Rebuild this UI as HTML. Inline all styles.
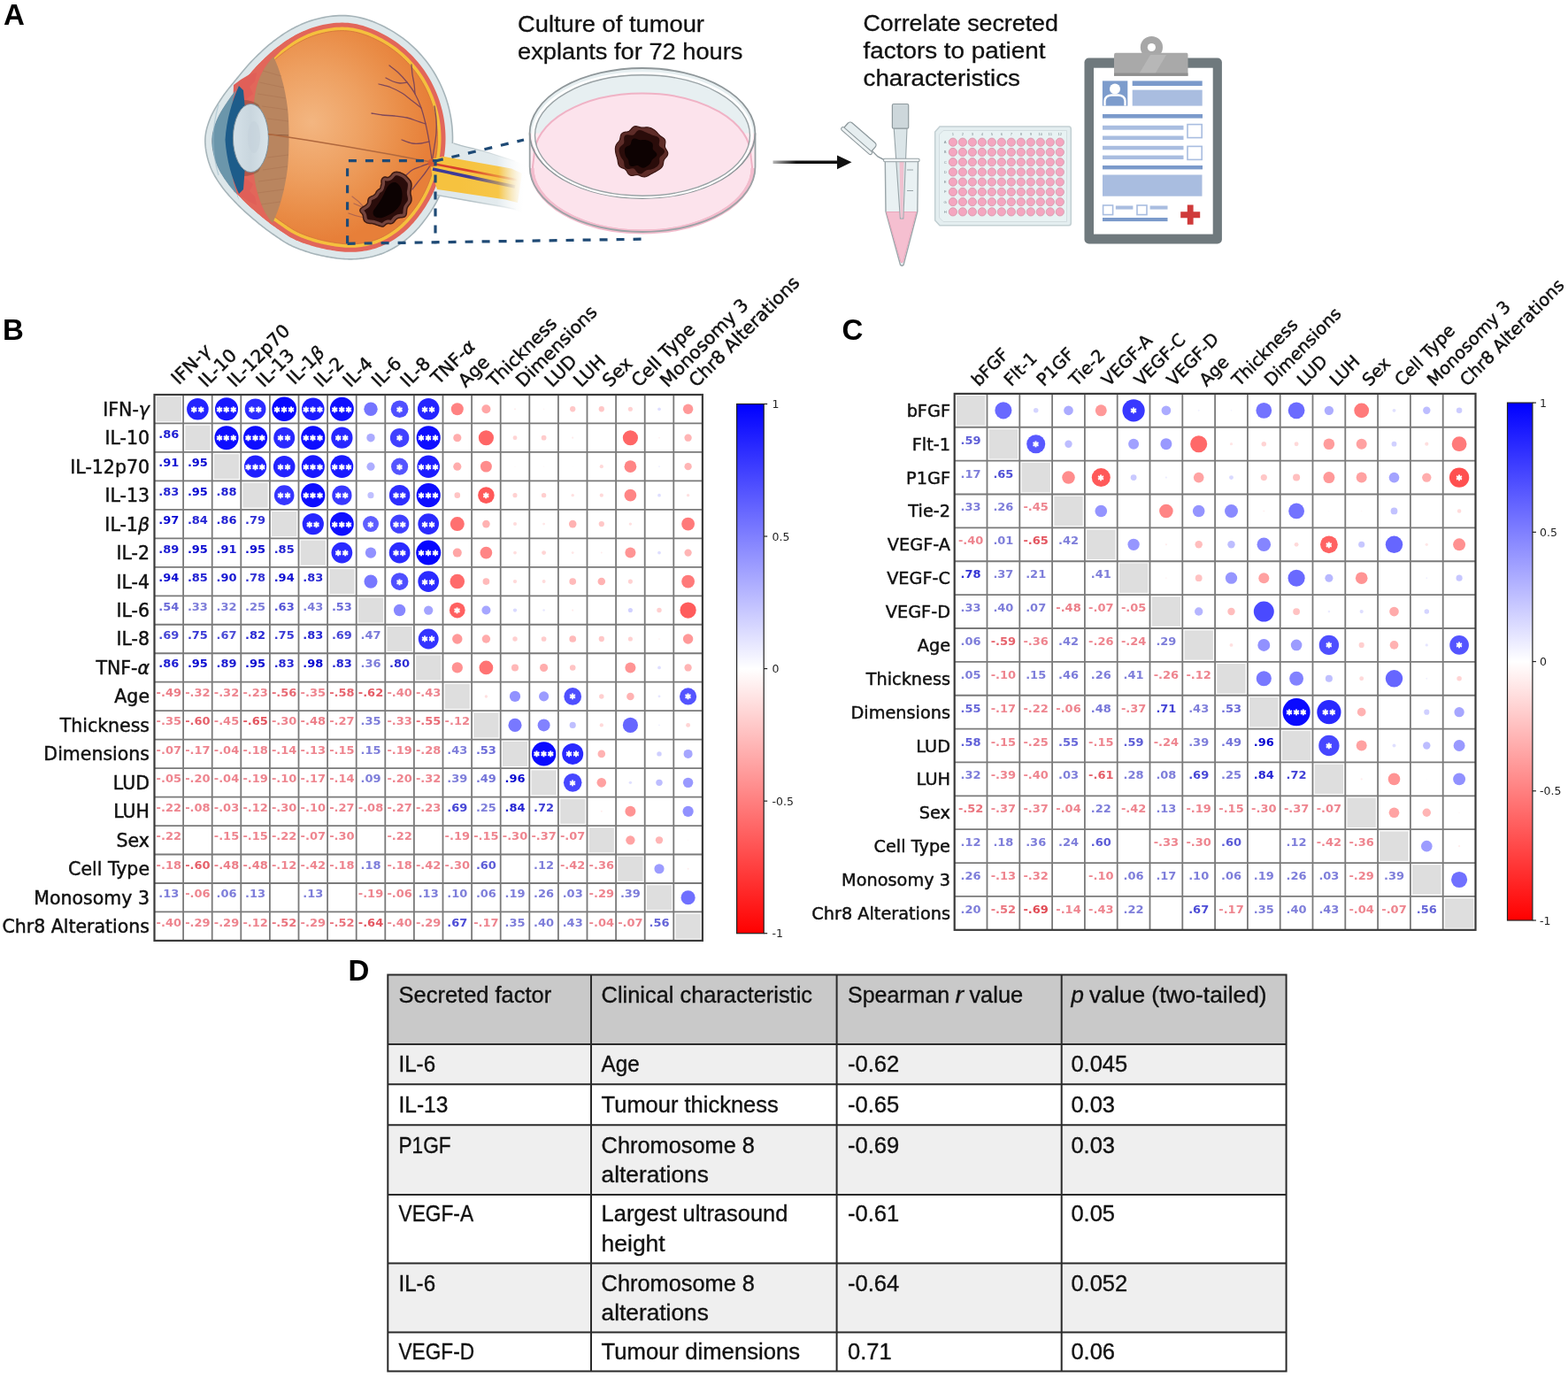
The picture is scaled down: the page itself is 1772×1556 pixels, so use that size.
<!DOCTYPE html><html><head><meta charset="utf-8"><title>Figure</title><style>html,body{margin:0;padding:0;background:#fff;}svg{display:block}.st{font-family:"DejaVu Sans",sans-serif;font-weight:bold;font-size:11.5px;fill:#fff;stroke:#fff;stroke-width:0.9px;text-anchor:middle;letter-spacing:1.9px}.nm{font-family:"DejaVu Sans",sans-serif;font-weight:bold;font-size:13px;text-anchor:middle}.rl{font-family:"DejaVu Sans",sans-serif;text-anchor:end;fill:#111;stroke:#111;stroke-width:0.45px}.cl{font-family:"DejaVu Sans",sans-serif;fill:#111;stroke:#111;stroke-width:0.45px}.cb{font-family:"DejaVu Sans",sans-serif;font-size:12.5px;fill:#222}.pl{font-family:"Liberation Sans",Arial,sans-serif;font-weight:bold;font-size:33px;fill:#000}.at{font-family:"Liberation Sans",Arial,sans-serif;font-size:26.5px;fill:#111;stroke:#111;stroke-width:0.3px}.tt{font-family:"Liberation Sans",Arial,sans-serif;font-size:25.5px;fill:#111;stroke:#111;stroke-width:0.35px}</style></head><body>
<svg width="1772" height="1556" viewBox="0 0 1772 1556">
<defs><linearGradient id="cbg" x1="0" y1="0" x2="0" y2="1"><stop offset="0" stop-color="#0000ff"/><stop offset="0.5" stop-color="#ffffff"/><stop offset="1" stop-color="#ff0000"/></linearGradient></defs>
<rect width="1772" height="1556" fill="#fff"/>
<defs><radialGradient id="vit" cx="352" cy="138" r="135" gradientUnits="userSpaceOnUse"><stop offset="0" stop-color="#f3b681"/><stop offset="0.45" stop-color="#eea061"/><stop offset="0.8" stop-color="#e98b45"/><stop offset="1" stop-color="#e77f39"/></radialGradient><linearGradient id="shf" x1="520" y1="0" x2="596" y2="0" gradientUnits="userSpaceOnUse"><stop offset="0" stop-color="#dfe8eb"/><stop offset="0.55" stop-color="#e3ebee"/><stop offset="1" stop-color="#ffffff" stop-opacity="0"/></linearGradient><linearGradient id="nvf" x1="520" y1="0" x2="592" y2="0" gradientUnits="userSpaceOnUse"><stop offset="0" stop-color="#f6c23f"/><stop offset="0.6" stop-color="#f7c648"/><stop offset="1" stop-color="#fbe6b0" stop-opacity="0"/></linearGradient><linearGradient id="vsf" x1="530" y1="0" x2="585" y2="0" gradientUnits="userSpaceOnUse"><stop offset="0" stop-color="#fff" stop-opacity="1"/><stop offset="1" stop-color="#fff" stop-opacity="0"/></linearGradient><mask id="vsm"><rect x="480" y="150" width="120" height="100" fill="url(#vsf)"/></mask><linearGradient id="lens" x1="0" y1="0" x2="1" y2="0"><stop offset="0" stop-color="#d5e1e8"/><stop offset="0.5" stop-color="#c9d6de"/><stop offset="1" stop-color="#d9e4ea"/></linearGradient><linearGradient id="arw" x1="873" y1="0" x2="900" y2="0" gradientUnits="userSpaceOnUse"><stop offset="0" stop-color="#111" stop-opacity="0.3"/><stop offset="1" stop-color="#111"/></linearGradient></defs>
<path d="M441.50 34.12 L444.94 36.16 L448.32 38.30 L451.66 40.56 L454.94 42.92 L458.15 45.38 L461.29 47.94 L464.37 50.60 L467.36 53.35 L470.27 56.18 L473.10 59.10 L475.83 62.09 L478.48 65.15 L481.03 68.29 L483.49 71.50 L485.85 74.78 L488.12 78.13 L490.28 81.54 L492.35 85.02 L494.32 88.55 L496.18 92.13 L497.94 95.77 L499.61 99.46 L501.16 103.19 L502.62 106.96 L503.97 110.77 L505.21 114.62 L506.34 118.50 L507.36 122.42 L508.27 126.36 L509.07 130.33 L509.76 134.32 L510.34 138.33 L510.80 142.36 L511.15 146.40 L511.38 150.44 L511.50 154.50 L511.50 158.57 L511.38 162.67 L511.14 166.79 L510.78 170.90 L510.30 175.01 L509.71 179.09 L509.00 183.14 L508.19 187.15 L507.28 191.10 L506.28 195.00 L505.19 198.82 L504.03 202.55 L502.79 206.24 L501.46 209.88 L500.05 213.49 L498.56 217.04 L497.00 220.53 L495.37 223.95 L493.68 227.28 L491.93 230.52 L490.13 233.66 L488.29 236.70 L486.42 239.62 L484.53 242.42 L482.64 245.09 L480.76 247.64 L478.90 250.10 L477.04 252.45 L475.17 254.72 L473.30 256.91 L471.40 259.03 L469.47 261.08 L467.51 263.08 L465.49 265.02 L463.42 266.91 L461.27 268.76 L459.07 270.56 L456.85 272.29 L454.61 273.95 L452.35 275.55 L450.06 277.09 L447.75 278.56 L445.40 279.96 L443.04 281.30 L440.64 282.56 L438.22 283.75 L435.76 284.87 L433.28 285.91 L430.77 286.88 L428.26 287.75 L425.73 288.55 L423.19 289.27 L420.64 289.92 L418.08 290.50 L415.52 291.01 L412.95 291.45 L410.38 291.84 L407.80 292.16 L405.22 292.43 L402.63 292.65 L400.01 292.80 L397.36 292.87 L394.70 292.87 L392.03 292.79 L389.37 292.66 L386.73 292.46 L384.12 292.21 L381.56 291.92 L379.06 291.59 L376.63 291.24 L374.27 290.87 L372.00 290.50 L369.82 290.12 L367.73 289.74 L365.71 289.34 L363.76 288.93 L361.86 288.51 L359.99 288.08 L358.15 287.64 L356.33 287.17 L354.51 286.69 L352.68 286.19 L350.84 285.65 L348.97 285.09 L347.09 284.49 L345.21 283.88 L343.33 283.25 L341.46 282.60 L339.59 281.92 L337.73 281.22 L335.89 280.50 L334.05 279.74 L332.24 278.96 L330.44 278.15 L328.66 277.30 L326.90 276.43 L325.18 275.51 L323.50 274.57 L321.85 273.59 L320.23 272.59 L318.64 271.57 L317.05 270.52 L315.47 269.45 L313.88 268.36 L312.29 267.25 L310.67 266.13 L309.03 264.98 L307.35 263.81 L305.64 262.62 L303.91 261.38 L302.16 260.10 L300.41 258.79 L298.64 257.44 L296.87 256.07 L295.11 254.68 L293.35 253.27 L291.60 251.85 L289.87 250.41 L288.15 248.98 L286.44 247.54 L284.74 246.10 L283.03 244.64 L281.32 243.15 L279.61 241.65 L277.90 240.12 L276.21 238.58 L274.53 237.03 L272.87 235.47 L271.24 233.89 L269.64 232.31 L268.08 230.74 L266.56 229.16 L265.06 227.60 L263.59 226.04 L262.14 224.50 L260.71 222.96 L259.30 221.42 L257.91 219.87 L256.55 218.31 L255.20 216.72 L253.87 215.11 L252.58 213.47 L251.31 211.79 L250.07 210.07 L248.85 208.33 L247.66 206.59 L246.49 204.84 L245.34 203.08 L244.22 201.30 L243.13 199.49 L242.07 197.64 L241.04 195.74 L240.06 193.80 L239.12 191.79 L238.23 189.71 L237.40 187.56 L236.61 185.32 L235.84 182.98 L235.12 180.57 L234.45 178.09 L233.83 175.57 L233.29 173.02 L232.83 170.46 L232.45 167.91 L232.16 165.38 L231.96 162.91 L231.86 160.50 L231.85 158.17 L231.93 155.94 L232.11 153.81 L232.36 151.75 L232.68 149.75 L233.07 147.81 L233.52 145.89 L234.02 144.00 L234.58 142.12 L235.19 140.23 L235.84 138.31 L236.55 136.37 L237.30 134.37 L238.11 132.34 L239.01 130.32 L239.98 128.31 L241.02 126.30 L242.11 124.31 L243.25 122.32 L244.43 120.35 L245.65 118.38 L246.89 116.43 L248.15 114.48 L249.42 112.53 L250.70 110.59 L252.01 108.66 L253.35 106.75 L254.74 104.86 L256.16 102.99 L257.61 101.13 L259.08 99.27 L260.57 97.43 L262.08 95.58 L263.61 93.73 L265.14 91.88 L266.67 90.01 L268.21 88.12 L269.77 86.20 L271.36 84.23 L272.99 82.24 L274.66 80.22 L276.35 78.21 L278.07 76.20 L279.80 74.22 L281.55 72.26 L283.31 70.35 L285.06 68.50 L286.80 66.70 L288.52 64.98 L290.22 63.31 L291.92 61.67 L293.61 60.05 L295.29 58.46 L296.97 56.89 L298.64 55.36 L300.32 53.87 L301.99 52.41 L303.66 50.98 L305.33 49.60 L306.99 48.26 L308.66 46.97 L310.29 45.74 L311.85 44.57 L313.37 43.45 L314.86 42.37 L316.34 41.31 L317.82 40.27 L319.33 39.24 L320.87 38.21 L322.48 37.16 L324.17 36.10 L325.96 35.02 L327.87 33.92 L329.89 32.80 L331.98 31.68 L334.14 30.56 L336.38 29.45 L338.69 28.36 L341.08 27.29 L343.55 26.25 L346.09 25.25 L348.72 24.29 L351.44 23.38 L354.23 22.52 L357.11 21.73 L360.07 20.99 L363.12 20.30 L366.26 19.65 L369.48 19.07 L372.78 18.57 L376.15 18.16 L379.59 17.86 L383.09 17.67 L386.64 17.60 L390.23 17.67 L393.85 17.89 L397.50 18.27 L401.17 18.80 L404.88 19.51 L408.61 20.37 L412.36 21.39 L416.10 22.56 L419.84 23.87 L423.55 25.31 L427.23 26.87 L430.87 28.54 L434.47 30.32 L438.01 32.18 Z" fill="#dde7ea" stroke="#a6b4b9" stroke-width="1.6"/>
<path d="M488 166 L512.5 161.8 C525 166 537 168 549 171.5 L594 186 L590 240 L570 234 L494 221 L488 221 Z" fill="url(#shf)"/>
<path d="M512.5 161.8 C525 166 537 168 549 171.5 L582 182" stroke="#b3c0c5" stroke-width="1.3" fill="none" mask="url(#vsm)"/>
<path d="M494 220.5 L570 234 L583 236.5" stroke="#b3c0c5" stroke-width="1.3" fill="none" mask="url(#vsm)"/>
<path d="M437.52 41.06 L440.76 42.98 L443.94 45.00 L447.08 47.12 L450.16 49.34 L453.19 51.66 L456.15 54.07 L459.04 56.57 L461.86 59.16 L464.61 61.83 L467.27 64.58 L469.86 67.40 L472.35 70.29 L474.75 73.25 L477.07 76.27 L479.29 79.36 L481.43 82.51 L483.47 85.73 L485.42 89.01 L487.27 92.34 L489.03 95.72 L490.70 99.16 L492.27 102.64 L493.74 106.17 L495.11 109.73 L496.39 113.33 L497.56 116.97 L498.63 120.63 L499.59 124.33 L500.45 128.05 L501.21 131.80 L501.86 135.57 L502.40 139.35 L502.84 143.16 L503.17 146.97 L503.39 150.79 L503.50 154.62 L503.50 158.46 L503.39 162.32 L503.16 166.21 L502.82 170.09 L502.37 173.97 L501.81 177.83 L501.14 181.66 L500.37 185.46 L499.51 189.21 L498.56 192.90 L497.52 196.53 L496.42 200.09 L495.23 203.59 L493.97 207.06 L492.64 210.49 L491.22 213.86 L489.74 217.17 L488.20 220.41 L486.59 223.57 L484.94 226.63 L483.24 229.60 L481.50 232.47 L479.74 235.22 L477.95 237.87 L476.15 240.41 L474.35 242.86 L472.58 245.19 L470.81 247.43 L469.05 249.58 L467.28 251.64 L465.50 253.62 L463.71 255.54 L461.88 257.39 L460.02 259.19 L458.11 260.93 L456.13 262.63 L454.08 264.30 L452.01 265.92 L449.92 267.48 L447.81 268.97 L445.68 270.39 L443.54 271.75 L441.38 273.05 L439.21 274.27 L437.01 275.43 L434.79 276.52 L432.56 277.54 L430.30 278.49 L428.02 279.36 L425.73 280.16 L423.43 280.89 L421.11 281.55 L418.77 282.14 L416.42 282.67 L414.06 283.14 L411.68 283.55 L409.29 283.91 L406.89 284.21 L404.47 284.46 L402.06 284.67 L399.67 284.80 L397.26 284.87 L394.81 284.87 L392.34 284.80 L389.87 284.67 L387.40 284.49 L384.96 284.25 L382.54 283.98 L380.15 283.67 L377.82 283.33 L375.53 282.97 L373.33 282.61 L371.23 282.25 L369.23 281.88 L367.31 281.50 L365.44 281.11 L363.61 280.71 L361.83 280.29 L360.07 279.87 L358.33 279.43 L356.60 278.97 L354.87 278.49 L353.12 277.98 L351.34 277.44 L349.53 276.87 L347.72 276.28 L345.92 275.68 L344.13 275.06 L342.36 274.42 L340.61 273.76 L338.87 273.08 L337.16 272.37 L335.47 271.64 L333.80 270.89 L332.16 270.11 L330.56 269.31 L329.01 268.49 L327.50 267.64 L325.99 266.75 L324.50 265.82 L323.00 264.86 L321.49 263.87 L319.97 262.84 L318.43 261.78 L316.85 260.69 L315.25 259.57 L313.60 258.42 L311.93 257.26 L310.27 256.09 L308.60 254.89 L306.92 253.66 L305.22 252.40 L303.51 251.10 L301.80 249.77 L300.09 248.42 L298.38 247.05 L296.67 245.66 L294.98 244.26 L293.29 242.85 L291.61 241.43 L289.93 240.01 L288.26 238.57 L286.58 237.12 L284.91 235.66 L283.25 234.18 L281.61 232.69 L279.99 231.19 L278.39 229.68 L276.83 228.17 L275.29 226.65 L273.80 225.14 L272.33 223.62 L270.86 222.08 L269.41 220.55 L267.99 219.04 L266.60 217.54 L265.23 216.05 L263.90 214.57 L262.60 213.08 L261.34 211.59 L260.10 210.09 L258.90 208.57 L257.74 207.04 L256.59 205.44 L255.43 203.78 L254.28 202.10 L253.16 200.43 L252.08 198.77 L251.03 197.11 L250.03 195.44 L249.06 193.75 L248.14 192.04 L247.26 190.30 L246.43 188.52 L245.64 186.69 L244.90 184.78 L244.18 182.74 L243.48 180.59 L242.81 178.37 L242.19 176.10 L241.64 173.80 L241.14 171.48 L240.72 169.16 L240.38 166.86 L240.12 164.60 L239.94 162.41 L239.85 160.31 L239.85 158.31 L239.92 156.42 L240.07 154.61 L240.28 152.87 L240.55 151.17 L240.89 149.50 L241.28 147.84 L241.72 146.17 L242.22 144.48 L242.78 142.75 L243.39 140.97 L244.05 139.13 L244.75 137.27 L245.48 135.46 L246.27 133.68 L247.14 131.88 L248.08 130.06 L249.08 128.22 L250.15 126.37 L251.26 124.51 L252.42 122.63 L253.62 120.74 L254.85 118.84 L256.11 116.92 L257.36 115.03 L258.59 113.21 L259.85 111.42 L261.15 109.64 L262.50 107.86 L263.90 106.07 L265.32 104.28 L266.78 102.47 L268.27 100.66 L269.78 98.82 L271.31 96.96 L272.86 95.08 L274.42 93.17 L275.98 91.24 L277.57 89.28 L279.18 87.32 L280.80 85.34 L282.45 83.38 L284.12 81.44 L285.79 79.52 L287.48 77.64 L289.16 75.81 L290.84 74.03 L292.50 72.32 L294.15 70.66 L295.81 69.04 L297.48 67.42 L299.12 65.84 L300.76 64.29 L302.39 62.78 L304.01 61.30 L305.62 59.86 L307.22 58.46 L308.80 57.11 L310.38 55.80 L311.95 54.54 L313.53 53.32 L315.10 52.13 L316.62 50.99 L318.10 49.90 L319.54 48.86 L320.96 47.84 L322.38 46.85 L323.81 45.86 L325.27 44.89 L326.78 43.91 L328.35 42.92 L330.02 41.92 L331.81 40.89 L333.73 39.82 L335.71 38.76 L337.76 37.70 L339.86 36.65 L342.03 35.63 L344.26 34.63 L346.56 33.66 L348.93 32.73 L351.37 31.84 L353.88 30.99 L356.46 30.21 L359.13 29.47 L361.93 28.77 L364.82 28.11 L367.77 27.51 L370.78 26.96 L373.86 26.50 L376.98 26.12 L380.16 25.84 L383.38 25.66 L386.63 25.60 L389.91 25.67 L393.20 25.87 L396.51 26.20 L399.84 26.69 L403.22 27.34 L406.65 28.13 L410.11 29.07 L413.59 30.16 L417.07 31.38 L420.54 32.72 L424.00 34.19 L427.43 35.77 L430.84 37.45 L434.21 39.22 Z" fill="#e2665a"/>
<path d="M435.03 45.40 L438.15 47.24 L441.21 49.18 L444.22 51.22 L447.18 53.35 L450.09 55.58 L452.93 57.90 L455.72 60.30 L458.43 62.79 L461.07 65.36 L463.63 68.01 L466.12 70.73 L468.52 73.51 L470.83 76.34 L473.05 79.25 L475.19 82.22 L477.24 85.25 L479.21 88.35 L481.08 91.50 L482.87 94.71 L484.56 97.97 L486.17 101.28 L487.68 104.63 L489.10 108.03 L490.42 111.47 L491.65 114.93 L492.78 118.43 L493.81 121.97 L494.74 125.53 L495.57 129.11 L496.29 132.72 L496.92 136.35 L497.44 139.99 L497.86 143.66 L498.18 147.33 L498.39 151.01 L498.50 154.69 L498.50 158.39 L498.40 162.11 L498.18 165.84 L497.85 169.58 L497.41 173.32 L496.87 177.04 L496.23 180.74 L495.49 184.40 L494.65 188.02 L493.73 191.59 L492.73 195.10 L491.66 198.55 L490.52 201.94 L489.29 205.30 L488.00 208.62 L486.63 211.88 L485.20 215.07 L483.71 218.20 L482.16 221.25 L480.57 224.20 L478.93 227.07 L477.25 229.83 L475.56 232.47 L473.83 235.03 L472.09 237.49 L470.35 239.87 L468.63 242.13 L466.92 244.29 L465.22 246.36 L463.52 248.34 L461.81 250.25 L460.10 252.08 L458.37 253.84 L456.60 255.54 L454.80 257.18 L452.92 258.80 L450.97 260.39 L448.98 261.94 L446.98 263.43 L444.97 264.85 L442.95 266.21 L440.92 267.50 L438.87 268.72 L436.81 269.88 L434.74 270.98 L432.65 272.00 L430.55 272.96 L428.43 273.85 L426.30 274.67 L424.16 275.42 L421.99 276.10 L419.81 276.72 L417.61 277.28 L415.38 277.78 L413.14 278.23 L410.89 278.62 L408.61 278.96 L406.31 279.25 L404.00 279.49 L401.71 279.68 L399.46 279.81 L397.19 279.87 L394.88 279.87 L392.54 279.80 L390.19 279.68 L387.83 279.51 L385.48 279.28 L383.14 279.02 L380.84 278.71 L378.56 278.38 L376.32 278.04 L374.16 277.68 L372.12 277.33 L370.17 276.97 L368.30 276.60 L366.48 276.22 L364.71 275.83 L362.98 275.43 L361.27 275.02 L359.59 274.59 L357.91 274.14 L356.23 273.68 L354.54 273.19 L352.82 272.67 L351.05 272.11 L349.28 271.54 L347.53 270.95 L345.80 270.35 L344.09 269.73 L342.40 269.09 L340.74 268.44 L339.10 267.76 L337.48 267.07 L335.90 266.35 L334.35 265.62 L332.84 264.87 L331.41 264.10 L330.00 263.31 L328.58 262.47 L327.16 261.59 L325.73 260.67 L324.27 259.71 L322.79 258.71 L321.27 257.66 L319.71 256.58 L318.11 255.47 L316.46 254.32 L314.80 253.16 L313.16 252.01 L311.53 250.84 L309.89 249.64 L308.23 248.40 L306.56 247.13 L304.88 245.83 L303.20 244.51 L301.52 243.16 L299.84 241.79 L298.17 240.41 L296.50 239.02 L294.84 237.62 L293.18 236.21 L291.52 234.79 L289.87 233.35 L288.22 231.91 L286.60 230.46 L284.99 229.00 L283.41 227.53 L281.85 226.06 L280.32 224.59 L278.83 223.11 L277.37 221.64 L275.93 220.16 L274.49 218.64 L273.05 217.12 L271.64 215.63 L270.27 214.15 L268.94 212.70 L267.65 211.25 L266.39 209.82 L265.17 208.39 L264.00 206.95 L262.86 205.51 L261.76 204.06 L260.67 202.55 L259.54 200.93 L258.41 199.29 L257.33 197.67 L256.29 196.08 L255.29 194.49 L254.34 192.91 L253.43 191.32 L252.57 189.73 L251.76 188.12 L250.99 186.48 L250.27 184.80 L249.59 183.04 L248.91 181.13 L248.25 179.10 L247.62 177.00 L247.04 174.86 L246.51 172.69 L246.05 170.52 L245.66 168.35 L245.34 166.21 L245.10 164.12 L244.94 162.10 L244.85 160.19 L244.85 158.39 L244.91 156.71 L245.04 155.11 L245.23 153.57 L245.47 152.06 L245.77 150.56 L246.13 149.05 L246.54 147.52 L247.00 145.95 L247.52 144.32 L248.10 142.63 L248.74 140.86 L249.41 139.09 L250.08 137.42 L250.81 135.78 L251.61 134.11 L252.49 132.40 L253.45 130.67 L254.46 128.90 L255.53 127.11 L256.66 125.29 L257.83 123.44 L259.04 121.57 L260.29 119.67 L261.52 117.80 L262.70 116.05 L263.91 114.34 L265.16 112.63 L266.47 110.91 L267.82 109.16 L269.22 107.41 L270.66 105.63 L272.13 103.83 L273.64 102.00 L275.17 100.14 L276.73 98.25 L278.30 96.32 L279.87 94.39 L281.45 92.44 L283.04 90.49 L284.65 88.54 L286.27 86.61 L287.90 84.71 L289.54 82.83 L291.18 81.00 L292.82 79.21 L294.45 77.49 L296.06 75.83 L297.67 74.22 L299.31 72.61 L300.95 71.02 L302.57 69.46 L304.18 67.94 L305.78 66.45 L307.36 65.01 L308.93 63.61 L310.48 62.25 L312.02 60.94 L313.55 59.67 L315.05 58.46 L316.57 57.28 L318.10 56.12 L319.60 55.01 L321.05 53.94 L322.46 52.92 L323.85 51.92 L325.23 50.95 L326.62 50.00 L328.02 49.06 L329.47 48.12 L330.97 47.18 L332.55 46.23 L334.27 45.24 L336.12 44.21 L338.05 43.18 L340.02 42.16 L342.04 41.15 L344.12 40.17 L346.26 39.22 L348.45 38.29 L350.71 37.40 L353.02 36.56 L355.41 35.76 L357.85 35.01 L360.40 34.31 L363.09 33.64 L365.88 33.00 L368.71 32.42 L371.60 31.90 L374.53 31.45 L377.51 31.09 L380.52 30.82 L383.56 30.66 L386.63 30.60 L389.71 30.66 L392.80 30.85 L395.89 31.17 L399.01 31.62 L402.19 32.23 L405.43 32.98 L408.71 33.87 L412.02 34.90 L415.34 36.07 L418.66 37.36 L421.98 38.76 L425.28 40.28 L428.57 41.90 L431.83 43.61 Z" fill="#f5c03d"/>
<path d="M433.03 48.86 L436.06 50.65 L439.02 52.53 L441.93 54.50 L444.79 56.56 L447.61 58.72 L450.36 60.96 L453.05 63.29 L455.68 65.70 L458.24 68.19 L460.72 70.75 L463.13 73.38 L465.45 76.08 L467.69 78.82 L469.84 81.63 L471.91 84.51 L473.90 87.45 L475.80 90.44 L477.62 93.50 L479.35 96.60 L480.99 99.76 L482.54 102.97 L484.01 106.22 L485.39 109.52 L486.67 112.85 L487.86 116.22 L488.96 119.61 L489.95 123.03 L490.85 126.48 L491.66 129.96 L492.36 133.45 L492.97 136.97 L493.48 140.51 L493.88 144.06 L494.19 147.62 L494.40 151.19 L494.50 154.75 L494.50 158.33 L494.40 161.93 L494.19 165.55 L493.87 169.18 L493.45 172.80 L492.92 176.41 L492.30 180.00 L491.58 183.56 L490.77 187.08 L489.87 190.55 L488.90 193.96 L487.86 197.31 L486.74 200.62 L485.55 203.89 L484.29 207.12 L482.96 210.29 L481.57 213.40 L480.12 216.43 L478.62 219.39 L477.07 222.26 L475.48 225.04 L473.86 227.71 L472.22 230.28 L470.54 232.75 L468.84 235.16 L467.14 237.47 L465.46 239.68 L463.80 241.78 L462.15 243.79 L460.51 245.71 L458.86 247.54 L457.21 249.30 L455.55 250.99 L453.87 252.62 L452.15 254.19 L450.35 255.73 L448.47 257.27 L446.55 258.76 L444.63 260.19 L442.70 261.56 L440.76 262.86 L438.82 264.09 L436.86 265.27 L434.90 266.37 L432.92 267.41 L430.94 268.39 L428.95 269.30 L426.94 270.14 L424.93 270.91 L422.90 271.62 L420.84 272.27 L418.77 272.86 L416.67 273.39 L414.55 273.87 L412.41 274.29 L410.25 274.67 L408.06 274.99 L405.86 275.27 L403.63 275.50 L401.43 275.69 L399.29 275.81 L397.14 275.87 L394.94 275.87 L392.70 275.81 L390.44 275.69 L388.17 275.52 L385.89 275.30 L383.63 275.05 L381.38 274.75 L379.16 274.43 L376.95 274.09 L374.82 273.74 L372.82 273.39 L370.93 273.04 L369.10 272.68 L367.32 272.31 L365.59 271.93 L363.90 271.54 L362.23 271.13 L360.59 270.72 L358.95 270.28 L357.32 269.83 L355.68 269.36 L354.00 268.85 L352.27 268.30 L350.54 267.74 L348.83 267.16 L347.14 266.58 L345.48 265.97 L343.84 265.36 L342.23 264.73 L340.65 264.08 L339.10 263.41 L337.58 262.72 L336.10 262.02 L334.67 261.31 L333.32 260.59 L332.00 259.85 L330.66 259.05 L329.30 258.21 L327.91 257.32 L326.49 256.38 L325.04 255.40 L323.54 254.37 L322.00 253.30 L320.40 252.19 L318.75 251.03 L317.09 249.88 L315.47 248.75 L313.88 247.60 L312.26 246.42 L310.64 245.21 L308.99 243.96 L307.35 242.68 L305.69 241.38 L304.04 240.05 L302.38 238.70 L300.72 237.33 L299.07 235.95 L297.42 234.56 L295.77 233.16 L294.13 231.76 L292.50 230.34 L290.88 228.92 L289.27 227.49 L287.69 226.05 L286.14 224.61 L284.61 223.17 L283.11 221.73 L281.65 220.28 L280.23 218.85 L278.82 217.39 L277.38 215.88 L275.95 214.37 L274.56 212.89 L273.21 211.44 L271.91 210.01 L270.64 208.60 L269.42 207.21 L268.24 205.82 L267.11 204.44 L266.02 203.07 L264.98 201.69 L263.93 200.23 L262.83 198.65 L261.72 197.04 L260.67 195.47 L259.66 193.92 L258.70 192.39 L257.79 190.88 L256.93 189.38 L256.12 187.88 L255.35 186.37 L254.64 184.84 L253.98 183.29 L253.34 181.65 L252.70 179.84 L252.06 177.90 L251.46 175.90 L250.91 173.87 L250.41 171.81 L249.97 169.74 L249.60 167.69 L249.30 165.68 L249.08 163.73 L248.93 161.86 L248.85 160.09 L248.85 158.46 L248.90 156.95 L249.02 155.52 L249.19 154.13 L249.41 152.77 L249.68 151.41 L250.01 150.03 L250.39 148.61 L250.82 147.13 L251.32 145.58 L251.88 143.96 L252.50 142.24 L253.14 140.54 L253.77 138.98 L254.44 137.46 L255.19 135.90 L256.03 134.28 L256.93 132.62 L257.91 130.92 L258.95 129.19 L260.05 127.41 L261.20 125.60 L262.40 123.75 L263.63 121.87 L264.85 120.02 L266.00 118.32 L267.15 116.68 L268.37 115.02 L269.64 113.34 L270.97 111.64 L272.34 109.91 L273.76 108.15 L275.23 106.37 L276.73 104.54 L278.26 102.68 L279.82 100.78 L281.40 98.85 L282.97 96.90 L284.55 94.96 L286.13 93.03 L287.72 91.10 L289.32 89.20 L290.92 87.32 L292.53 85.48 L294.14 83.69 L295.75 81.94 L297.34 80.25 L298.91 78.63 L300.49 77.06 L302.10 75.48 L303.73 73.90 L305.33 72.36 L306.92 70.86 L308.49 69.39 L310.04 67.98 L311.58 66.60 L313.09 65.28 L314.59 64.00 L316.07 62.77 L317.53 61.60 L319.01 60.45 L320.51 59.32 L321.98 58.22 L323.41 57.17 L324.80 56.16 L326.16 55.19 L327.51 54.24 L328.86 53.31 L330.22 52.40 L331.62 51.50 L333.07 50.59 L334.58 49.67 L336.24 48.72 L338.04 47.72 L339.91 46.72 L341.82 45.73 L343.78 44.75 L345.79 43.81 L347.85 42.89 L349.96 42.00 L352.13 41.14 L354.35 40.33 L356.63 39.56 L358.96 38.85 L361.41 38.18 L364.02 37.53 L366.73 36.91 L369.47 36.34 L372.25 35.84 L375.07 35.42 L377.92 35.07 L380.80 34.81 L383.70 34.66 L386.62 34.60 L389.55 34.66 L392.47 34.84 L395.39 35.13 L398.34 35.57 L401.37 36.14 L404.45 36.86 L407.59 37.71 L410.76 38.70 L413.95 39.82 L417.16 41.06 L420.36 42.42 L423.56 43.89 L426.75 45.47 L429.92 47.13 Z" fill="url(#vit)" stroke="#d0703a" stroke-width="0.8"/>
<path d="M344.13 275.06 L342.36 274.42 L340.61 273.76 L338.87 273.08 L337.16 272.37 L335.47 271.64 L333.80 270.89 L332.16 270.11 L330.56 269.31 L329.01 268.49 L327.50 267.64 L325.99 266.75 L324.50 265.82 L323.00 264.86 L321.49 263.87 L319.97 262.84 L318.43 261.78 L316.85 260.69 L315.25 259.57 L313.60 258.42 L311.93 257.26 L310.27 256.09 L308.60 254.89 L306.92 253.66 L305.22 252.40 L303.51 251.10 L301.80 249.77 L300.09 248.42 L298.38 247.05 L296.67 245.66 L294.98 244.26 L293.29 242.85 L291.61 241.43 L289.93 240.01 L288.26 238.57 L286.58 237.12 L284.91 235.66 L283.25 234.18 L281.61 232.69 L279.99 231.19 L278.39 229.68 L276.83 228.17 L275.29 226.65 L273.80 225.14 L272.33 223.62 L270.86 222.08 L269.41 220.55 L267.99 219.04 L266.60 217.54 L265.23 216.05 L263.90 214.57 L262.60 213.08 L261.34 211.59 L260.10 210.09 L258.90 208.57 L257.74 207.04 L256.59 205.44 L255.43 203.78 L254.28 202.10 L253.16 200.43 L252.08 198.77 L251.03 197.11 L250.03 195.44 L249.06 193.75 L248.14 192.04 L247.26 190.30 L246.43 188.52 L245.64 186.69 L244.90 184.78 L244.18 182.74 L243.48 180.59 L242.81 178.37 L242.19 176.10 L241.64 173.80 L241.14 171.48 L240.72 169.16 L240.38 166.86 L240.12 164.60 L239.94 162.41 L239.85 160.31 L239.85 158.31 L239.92 156.42 L240.07 154.61 L240.28 152.87 L240.55 151.17 L240.89 149.50 L241.28 147.84 L241.72 146.17 L242.22 144.48 L242.78 142.75 L243.39 140.97 L244.05 139.13 L244.75 137.27 L245.48 135.46 L246.27 133.68 L247.14 131.88 L248.08 130.06 L249.08 128.22 L250.15 126.37 L251.26 124.51 L252.42 122.63 L253.62 120.74 L254.85 118.84 L256.11 116.92 L257.36 115.03 L258.59 113.21 L259.85 111.42 L261.15 109.64 L262.50 107.86 L263.90 106.07 L265.32 104.28 L266.78 102.47 L268.27 100.66 L269.78 98.82 L271.31 96.96 L272.86 95.08 L274.42 93.17 L275.98 91.24 L277.57 89.28 L279.18 87.32 L280.80 85.34 L282.45 83.38 L284.12 81.44 L285.79 79.52 L287.48 77.64 L289.16 75.81 L290.84 74.03 L292.50 72.32 L294.15 70.66 L295.81 69.04 L297.48 67.42 L299.12 65.84 L300.76 64.29 L302.39 62.78 L304.01 61.30 L305.62 59.86 L307.22 58.46 L308.80 57.11 L310.38 55.80 L311.95 54.54 L313.53 53.32 L315.10 52.13 L316.62 50.99 L318.10 49.90 L319.54 48.86 L320.96 47.84 L322.38 46.85 L323.81 45.86 L325.27 44.89 L326.78 43.91 L328.35 42.92 L330.02 41.92 L331.81 40.89 L333.73 39.82 L335.71 38.76 L337.76 37.70 L339.86 36.65 L342.03 35.63 L344.26 34.63 L346.00 37.00 L330.00 48.00 L318.00 57.00 L309.00 66.00 L300.00 80.00 L292.00 100.00 L289.00 130.00 L288.00 157.00 L289.00 185.00 L292.00 212.00 L300.00 236.00 L309.00 250.00 L319.00 259.00 L331.00 267.00 L346.00 276.00 Z" fill="#e2665a"/>
<path d="M309 64 C316 78 322 98 325 122 C327 140 327 170 325 190 C322 214 316 236 308 252 C300 244 293 228 289 210 C286 194 285 176 285 157 C285 136 286 118 289 102 C292 88 299 74 309 64 Z" fill="#b9855f"/>
<g stroke="#a7714f" stroke-width="0.9" opacity="0.55"><path d="M297 80 L318 86"/><path d="M293 93 L321 99"/><path d="M291 106 L323 111"/><path d="M296 120 L325 124"/><path d="M302 134 L326 137"/><path d="M302 178 L326 175"/><path d="M297 192 L325 188"/><path d="M292 205 L323 201"/><path d="M291 218 L321 214"/><path d="M295 231 L317 228"/></g>
<path d="M303 152 L326 153" stroke="#8e5a3c" stroke-width="1"/>
<path d="M268 114 C276 112 284 113 292 118 L295 124 C288 121 280 120 271 122 Z" fill="#5e3a2c" opacity="0.35"/>
<path d="M268 198 C276 200 284 199 292 194 L295 188 C288 191 280 192 271 190 Z" fill="#5e3a2c" opacity="0.35"/>
<path d="M264 96 L272 90 L282 84 L290 82 L288 92 L282 98 L286 106 L278 112 L268 118 L263 126 Z" fill="#e05f58"/>
<path d="M264 216 L272 222 L282 228 L290 232 L288 222 L282 216 L286 208 L278 202 L268 196 L263 188 Z" fill="#e05f58"/>
<path d="M267.88 100.34 L266.39 102.16 L264.93 103.97 L263.50 105.76 L262.11 107.56 L260.75 109.34 L259.44 111.13 L258.18 112.92 L256.94 114.75 L255.69 116.65 L254.44 118.57 L253.20 120.47 L252.00 122.37 L250.84 124.25 L249.72 126.12 L248.65 127.98 L247.64 129.82 L246.69 131.66 L245.82 133.47 L245.02 135.27 L244.28 137.09 L243.58 138.96 L242.92 140.80 L242.30 142.59 L241.75 144.33 L241.24 146.03 L240.79 147.72 L240.40 149.39 L240.06 151.08 L239.78 152.80 L239.57 154.56 L239.42 156.39 L239.35 158.30 L239.35 160.32 L239.45 162.44 L239.62 164.65 L239.89 166.93 L240.23 169.24 L240.65 171.58 L241.15 173.91 L241.71 176.23 L242.33 178.51 L243.00 180.74 L243.71 182.90 L244.43 184.96 L245.18 186.88 L245.97 188.72 L246.81 190.52 L247.69 192.27 L248.62 193.99 L249.59 195.69 L250.61 197.37 L251.66 199.04 L252.74 200.71 L253.86 202.38 L255.02 204.06 L256.18 205.73 L257.34 207.33 L258.51 208.88 L259.71 210.40 L260.95 211.91 L262.23 213.41 L263.53 214.90 L264.86 216.39 L266.23 217.88 L267.62 219.38 L270.00 226.00 L264.00 206.00 L260.00 186.00 L258.50 158.00 L260.00 130.00 L264.00 110.00 L270.00 92.00 Z" fill="#6b96ab"/>
<path d="M247 118 C243 132 241 145 241 158 C241 172 243 185 247 198" stroke="#9fbccb" stroke-width="1.2" fill="none" opacity="0.6"/>
<path d="M270 97 C262 115 256 135 254.5 158 C256 181 262 201 270 219 L275 214 L276.68 192.00 L274.63 190.20 L273.03 188.40 L271.71 186.60 L270.58 184.80 L269.61 183.00 L268.75 181.20 L267.99 179.40 L267.32 177.60 L266.73 175.80 L266.21 174.00 L265.75 172.20 L265.34 170.40 L265.00 168.60 L264.70 166.80 L264.45 165.00 L264.25 163.20 L264.10 161.40 L263.99 159.60 L263.92 157.80 L263.90 156.00 L263.92 154.20 L263.99 152.40 L264.10 150.60 L264.25 148.80 L264.45 147.00 L264.70 145.20 L265.00 143.40 L265.34 141.60 L265.75 139.80 L266.21 138.00 L266.73 136.20 L267.32 134.40 L267.99 132.60 L268.75 130.80 L269.61 129.00 L270.58 127.20 L271.71 125.40 L273.03 123.60 L274.63 121.80 L276.68 120.00 L275 102 Z" fill="#1d5c8a"/>
<ellipse cx="283.4" cy="156" rx="20" ry="38.6" fill="url(#lens)" stroke="#7e919c" stroke-width="1"/>
<ellipse cx="287" cy="155" rx="7" ry="18" fill="#c4d1da" opacity="0.55"/>
<path d="M303 151.5 C360 160 430 172 487 183" stroke="#b0683e" stroke-width="1.3" fill="none"/>
<path d="M486 180 L501 176.8 L578 190.5 L590 196 L585 229 L571 225.5 L494 213.9 L488 196 Z" fill="url(#nvf)"/>
<g mask="url(#vsm)"><path d="M487 184.5 L585 203.5" stroke="#d8402c" stroke-width="2.6"/><path d="M489 191 L582 211" stroke="#3d3a98" stroke-width="3.6"/></g>
<g stroke="#74405a" stroke-width="1.3" fill="none" stroke-linecap="round" opacity="0.9"><path d="M488.30 181.50 C487.75 177.92 486.22 166.92 485.00 160.00 C483.78 153.08 482.50 146.33 481.00 140.00 C479.50 133.67 478.00 127.67 476.00 122.00 C474.00 116.33 471.67 110.83 469.00 106.00 C466.33 101.17 463.17 97.00 460.00 93.00 C456.83 89.00 453.33 85.17 450.00 82.00 C446.67 78.83 441.67 75.33 440.00 74.00"/><path d="M476.00 122.00 C474.33 120.67 469.67 116.83 466.00 114.00 C462.33 111.17 458.00 107.50 454.00 105.00 C450.00 102.50 446.33 100.67 442.00 99.00 C437.67 97.33 430.33 95.67 428.00 95.00"/><path d="M481.00 140.00 C479.50 139.50 475.50 138.17 472.00 137.00 C468.50 135.83 464.33 134.00 460.00 133.00 C455.67 132.00 450.67 131.50 446.00 131.00 C441.33 130.50 436.33 130.50 432.00 130.00 C427.67 129.50 422.00 128.33 420.00 128.00"/><path d="M469.00 106.00 C468.83 104.17 468.50 98.67 468.00 95.00 C467.50 91.33 466.50 87.67 466.00 84.00 C465.50 80.33 465.17 74.83 465.00 73.00"/><path d="M488.30 181.50 C488.75 178.75 490.22 170.25 491.00 165.00 C491.78 159.75 492.67 155.00 493.00 150.00 C493.33 145.00 493.33 140.00 493.00 135.00 C492.67 130.00 491.33 122.50 491.00 120.00"/><path d="M485.00 160.00 C483.50 160.33 479.17 161.67 476.00 162.00 C472.83 162.33 469.67 162.67 466.00 162.00 C462.33 161.33 456.00 158.67 454.00 158.00"/><path d="M460.00 93.00 C458.67 93.17 454.67 94.17 452.00 94.00 C449.33 93.83 446.67 93.00 444.00 92.00 C441.33 91.00 437.33 88.67 436.00 88.00"/><path d="M487.00 184.00 C485.17 184.67 479.50 186.67 476.00 188.00 C472.50 189.33 468.83 190.33 466.00 192.00 C463.17 193.67 460.17 197.00 459.00 198.00"/><path d="M487.00 186.00 C485.83 187.67 482.50 192.67 480.00 196.00 C477.50 199.33 474.33 203.00 472.00 206.00 C469.67 209.00 467.00 212.67 466.00 214.00"/><path d="M420 240 C414 236 408 233 400 230" opacity="0.55"/><path d="M416 246 C410 246 402 244 394 241" opacity="0.55"/><path d="M412 235 C408 230 404 226 398 222" opacity="0.5"/></g>
<circle cx="488" cy="184" r="4.5" fill="#d85a30" opacity="0.9"/>
<path d="M444.40 195.30 L445.53 194.74 L446.82 194.41 L448.20 194.30 L449.58 194.40 L450.92 194.67 L452.19 195.07 L453.48 195.57 L454.82 196.19 L456.14 196.89 L457.37 197.66 L458.43 198.43 L459.26 199.19 L459.94 199.92 L460.61 200.66 L461.30 201.43 L462.03 202.25 L462.77 203.11 L463.50 204.00 L464.12 205.01 L464.56 206.17 L464.82 207.37 L464.92 208.54 L464.91 209.62 L464.85 210.59 L464.76 211.53 L464.64 212.49 L464.51 213.46 L464.37 214.39 L464.21 215.26 L464.05 216.05 L463.92 216.79 L463.86 217.49 L463.88 218.24 L463.99 219.08 L464.17 220.00 L464.40 221.00 L464.65 222.11 L464.85 223.31 L464.97 224.56 L464.94 225.82 L464.77 227.05 L464.43 228.19 L463.96 229.21 L463.38 230.14 L462.74 231.01 L462.08 231.84 L461.46 232.65 L460.91 233.47 L460.45 234.30 L460.10 235.16 L459.85 236.05 L459.69 237.00 L459.58 237.98 L459.50 239.00 L459.44 240.03 L459.36 241.07 L459.17 242.10 L458.80 243.11 L458.20 244.03 L457.35 244.80 L456.30 245.31 L455.15 245.59 L453.96 245.72 L452.78 245.81 L451.64 245.93 L450.59 246.14 L449.69 246.45 L448.90 246.83 L448.20 247.32 L447.56 247.91 L446.97 248.58 L446.40 249.30 L445.83 250.04 L445.23 250.76 L444.60 251.42 L443.92 251.96 L443.20 252.38 L442.45 252.64 L441.72 252.75 L441.02 252.74 L440.34 252.66 L439.67 252.56 L439.00 252.50 L438.32 252.53 L437.61 252.69 L436.91 253.00 L436.25 253.42 L435.64 253.93 L435.06 254.47 L434.50 255.00 L433.95 255.46 L433.40 255.81 L432.85 256.02 L432.29 256.10 L431.69 256.03 L430.95 255.85 L430.01 255.58 L428.88 255.23 L427.65 254.82 L426.40 254.39 L425.22 253.97 L424.17 253.56 L423.22 253.21 L422.27 252.94 L421.29 252.74 L420.27 252.61 L419.21 252.50 L418.10 252.40 L416.95 252.26 L415.79 252.04 L414.65 251.70 L413.58 251.20 L412.62 250.53 L411.84 249.69 L411.27 248.71 L410.91 247.66 L410.70 246.59 L410.56 245.55 L410.43 244.57 L410.25 243.67 L409.99 242.88 L409.66 242.20 L409.25 241.61 L408.78 241.07 L408.29 240.56 L407.80 240.00 L407.37 239.40 L407.04 238.75 L406.87 238.06 L406.89 237.35 L407.12 236.66 L407.54 235.99 L408.14 235.35 L408.89 234.75 L409.73 234.18 L410.60 233.65 L411.44 233.14 L412.18 232.67 L412.84 232.23 L413.48 231.75 L414.13 231.15 L414.74 230.43 L415.26 229.60 L415.60 228.70 L415.76 227.80 L415.84 226.91 L415.95 226.03 L416.18 225.13 L416.59 224.25 L417.21 223.47 L417.99 222.84 L418.85 222.35 L419.76 221.93 L420.68 221.54 L421.56 221.13 L422.37 220.68 L423.09 220.14 L423.69 219.54 L424.20 218.86 L424.65 218.12 L425.06 217.32 L425.50 216.50 L426.08 215.70 L426.83 214.98 L427.60 214.37 L428.28 213.89 L428.80 213.55 L429.17 213.33 L429.52 213.01 L429.85 212.37 L430.11 211.51 L430.31 210.59 L430.51 209.75 L430.75 209.05 L430.97 208.37 L431.08 207.63 L431.10 206.89 L431.05 206.13 L431.00 205.34 L431.00 204.50 L431.14 203.61 L431.44 202.72 L431.90 201.89 L432.49 201.17 L433.19 200.60 L433.99 200.19 L434.85 200.01 L435.68 200.06 L436.46 200.24 L437.27 200.41 L438.18 200.44 L439.19 200.22 L440.21 199.66 L441.14 198.85 L441.96 197.93 L442.72 196.97 L443.50 196.07 Z" fill="#74443d" stroke="#3e1a12" stroke-width="1.5"/>
<path d="M446.59 198.65 L446.91 198.50 L447.48 198.35 L448.21 198.30 L449.04 198.36 L449.93 198.54 L450.86 198.84 L451.91 199.25 L453.04 199.77 L454.15 200.36 L455.14 200.97 L455.91 201.54 L456.46 202.04 L456.99 202.62 L457.63 203.33 L458.32 204.10 L459.02 204.89 L459.71 205.68 L460.24 206.31 L460.53 206.76 L460.72 207.30 L460.86 207.98 L460.92 208.72 L460.92 209.48 L460.86 210.26 L460.78 211.10 L460.67 211.99 L460.55 212.88 L460.42 213.73 L460.28 214.51 L460.12 215.31 L459.95 216.27 L459.86 217.40 L459.90 218.57 L460.04 219.71 L460.25 220.83 L460.50 221.90 L460.73 222.88 L460.89 223.81 L460.97 224.70 L460.96 225.51 L460.86 226.21 L460.69 226.78 L460.44 227.31 L460.06 227.90 L459.56 228.59 L458.93 229.38 L458.22 230.31 L457.49 231.39 L456.84 232.58 L456.32 233.86 L455.95 235.18 L455.72 236.44 L455.60 237.61 L455.51 238.73 L455.45 239.76 L455.39 240.56 L455.31 241.05 L455.23 241.31 L455.17 241.42 L455.13 241.47 L454.95 241.54 L454.44 241.65 L453.58 241.74 L452.43 241.83 L451.04 241.97 L449.57 242.27 L448.17 242.74 L446.87 243.38 L445.69 244.20 L444.70 245.11 L443.90 246.01 L443.25 246.84 L442.70 247.55 L442.25 248.10 L441.90 248.47 L441.66 248.67 L441.53 248.74 L441.48 248.76 L441.45 248.75 L441.28 248.74 L440.85 248.69 L440.14 248.59 L439.10 248.50 L437.76 248.57 L436.33 248.90 L435.01 249.48 L433.90 250.19 L433.00 250.93 L432.32 251.56 L431.84 252.01 L431.57 252.24 L431.59 252.25 L431.86 252.15 L432.26 252.10 L432.41 252.10 L432.00 251.99 L431.16 251.75 L430.09 251.42 L428.93 251.03 L427.74 250.62 L426.62 250.22 L425.58 249.82 L424.46 249.41 L423.21 249.05 L421.96 248.80 L420.74 248.63 L419.59 248.52 L418.52 248.42 L417.56 248.31 L416.74 248.16 L416.08 247.96 L415.58 247.74 L415.25 247.51 L415.05 247.30 L414.91 247.05 L414.77 246.61 L414.65 245.93 L414.53 245.03 L414.38 243.91 L414.12 242.65 L413.70 241.38 L413.11 240.19 L412.41 239.15 L411.73 238.37 L411.24 237.85 L410.93 237.51 L410.78 237.31 L410.78 237.35 L410.84 237.64 L410.83 238.05 L410.73 238.38 L410.68 238.47 L410.85 238.30 L411.27 237.97 L411.91 237.54 L412.69 237.06 L413.54 236.54 L414.34 236.03 L415.13 235.51 L416.05 234.82 L417.03 233.91 L417.99 232.77 L418.84 231.37 L419.45 229.78 L419.72 228.32 L419.81 227.33 L419.88 226.77 L419.94 226.49 L419.98 226.36 L420.04 226.29 L420.25 226.15 L420.69 225.90 L421.38 225.58 L422.29 225.20 L423.37 224.70 L424.55 224.03 L425.69 223.18 L426.71 222.17 L427.53 221.09 L428.14 220.07 L428.60 219.19 L428.89 218.63 L429.10 218.32 L429.47 217.98 L429.99 217.57 L430.54 217.19 L430.93 216.93 L431.56 216.54 L432.78 215.33 L433.58 213.82 L433.98 212.50 L434.21 211.49 L434.35 210.86 L434.55 210.30 L434.86 209.26 L435.06 207.98 L435.09 206.82 L435.04 205.88 L434.99 205.22 L434.99 204.83 L435.02 204.57 L435.10 204.33 L435.21 204.13 L435.31 204.01 L435.37 203.96 L435.34 203.96 L435.17 204.00 L435.11 204.02 L435.61 204.15 L436.80 204.38 L438.58 204.42 L440.63 203.95 L442.51 202.93 L443.95 201.69 L445.02 200.51 L445.81 199.52 L446.32 198.90 Z" fill="#2a0c0a"/>
<path d="M447 206 C455 210 456 220 453 230 C449 238 441 243 432 246 C425 247 420 244 422 238 C426 232 431 226 434 219 C437 211 441 205 447 206 Z" fill="#0c0202"/>
<g stroke="#1f4a75" stroke-width="3.2" fill="none" stroke-dasharray="9 10"><path d="M392.6 275.3 V181.6 H492 V275.3"/><path d="M392.6 275.3 L725 270.2"/><path d="M492 182 L592 158"/></g>
<ellipse cx="726" cy="150.5" rx="127.4" ry="73.5" fill="#e7eff1"/>
<path d="M598.7 150.5 L598.7 188.5 A127.4 73.5 0 0 0 853.5 188.5 L853.5 150.5 Z" fill="#fde9f0"/>
<path d="M603.5 176.2 A122.5 70.7 0 0 1 848.5 176.2 L850 188.5 A124 72 0 0 1 602 188.5 Z" fill="#fce3ec" stroke="#f0b2c5" stroke-width="2"/>
<path d="M601 190 A125 72 0 0 0 851 190" stroke="#f3bccd" stroke-width="5" fill="none"/>
<path d="M598.7 150.5 L598.7 188.5 A127.4 73.5 0 0 0 853.5 188.5 L853.5 150.5" stroke="#9aa2a5" stroke-width="1.8" fill="none"/>
<ellipse cx="726" cy="150.5" rx="127.4" ry="73.5" fill="none" stroke="#8f979a" stroke-width="1.8"/>
<ellipse cx="726" cy="152.5" rx="123.5" ry="69.8" fill="none" stroke="#ffffff" stroke-width="3"/>
<ellipse cx="726" cy="153" rx="121.5" ry="68.2" fill="none" stroke="#9aa2a5" stroke-width="1.4"/>
<path d="M754.19 171.20 L754.76 173.12 L754.48 175.02 L753.44 176.78 L752.06 178.35 L750.84 179.86 L750.08 181.46 L749.73 183.25 L749.49 185.17 L749.01 187.06 L748.11 188.74 L746.79 190.12 L745.24 191.26 L743.61 192.27 L741.99 193.23 L740.37 194.15 L738.75 195.02 L737.10 195.85 L735.46 196.70 L733.83 197.63 L732.16 198.62 L730.38 199.46 L728.49 199.90 L726.53 199.77 L724.60 199.12 L722.77 198.28 L721.02 197.67 L719.20 197.58 L717.23 197.93 L715.12 198.35 L713.04 198.33 L711.23 197.55 L709.84 196.05 L708.78 194.22 L707.79 192.50 L706.54 191.22 L704.91 190.34 L703.00 189.61 L701.16 188.68 L699.72 187.36 L698.84 185.66 L698.41 183.75 L698.18 181.84 L697.89 180.02 L697.43 178.28 L696.87 176.56 L696.34 174.82 L695.92 173.03 L695.62 171.20 L695.44 169.34 L695.43 167.47 L695.70 165.61 L696.37 163.85 L697.42 162.23 L698.65 160.75 L699.76 159.29 L700.52 157.68 L700.94 155.83 L701.30 153.82 L701.99 151.92 L703.26 150.45 L705.09 149.57 L707.21 149.17 L709.25 148.86 L710.95 148.22 L712.35 147.04 L713.64 145.47 L715.08 143.94 L716.80 142.91 L718.75 142.63 L720.78 142.98 L722.74 143.59 L724.60 144.06 L726.42 144.19 L728.28 144.04 L730.19 143.86 L732.13 143.89 L734.02 144.23 L735.82 144.85 L737.54 145.68 L739.16 146.67 L740.66 147.83 L742.00 149.15 L743.21 150.57 L744.39 151.96 L745.70 153.21 L747.24 154.31 L748.92 155.40 L750.47 156.68 L751.53 158.29 L751.92 160.20 L751.74 162.24 L751.40 164.22 L751.40 166.02 L752.00 167.69 L753.08 169.38 Z" fill="#5e2c28" stroke="#3a1512" stroke-width="1.2"/>
<path d="M751.06 171.50 L750.44 173.12 L749.12 174.59 L747.58 175.88 L746.27 177.06 L745.48 178.29 L745.21 179.68 L745.26 181.26 L745.29 182.95 L745.04 184.59 L744.40 186.06 L743.42 187.32 L742.21 188.38 L740.89 189.31 L739.52 190.14 L738.08 190.84 L736.56 191.36 L734.97 191.65 L733.37 191.80 L731.85 191.97 L730.44 192.38 L729.10 193.17 L727.73 194.31 L726.24 195.51 L724.60 196.40 L722.88 196.61 L721.24 195.97 L719.80 194.62 L718.60 192.94 L717.53 191.45 L716.38 190.52 L714.94 190.28 L713.13 190.54 L711.08 190.89 L709.05 190.92 L707.36 190.34 L706.21 189.12 L705.61 187.46 L705.39 185.63 L705.23 183.90 L704.90 182.40 L704.28 181.10 L703.43 179.90 L702.51 178.69 L701.68 177.39 L701.01 176.00 L700.48 174.54 L700.05 173.04 L699.70 171.50 L699.52 169.92 L699.67 168.35 L700.27 166.86 L701.32 165.52 L702.66 164.36 L703.96 163.31 L704.92 162.20 L705.35 160.85 L705.33 159.16 L705.16 157.20 L705.24 155.23 L705.90 153.58 L707.25 152.54 L709.16 152.21 L711.29 152.40 L713.30 152.74 L714.97 152.79 L716.29 152.27 L717.39 151.15 L718.50 149.69 L719.78 148.28 L721.28 147.30 L722.92 146.95 L724.60 147.19 L726.22 147.82 L727.75 148.58 L729.21 149.28 L730.65 149.87 L732.07 150.42 L733.46 150.99 L734.83 151.62 L736.19 152.26 L737.61 152.84 L739.17 153.31 L740.84 153.75 L742.52 154.33 L743.97 155.22 L744.96 156.53 L745.34 158.22 L745.20 160.10 L744.84 161.94 L744.68 163.53 L745.10 164.83 L746.22 165.95 L747.85 167.07 L749.53 168.35 L750.73 169.86 Z" fill="#2a0c0a"/>
<path d="M741.91 173.00 L742.35 174.16 L742.28 175.33 L741.74 176.42 L740.84 177.37 L739.77 178.20 L738.71 178.93 L737.80 179.64 L737.10 180.39 L736.59 181.23 L736.18 182.16 L735.76 183.12 L735.26 184.07 L734.64 184.95 L733.89 185.74 L733.05 186.46 L732.17 187.13 L731.25 187.80 L730.30 188.45 L729.28 189.03 L728.19 189.48 L727.03 189.68 L725.82 189.58 L724.63 189.19 L723.50 188.57 L722.46 187.88 L721.50 187.28 L720.55 186.93 L719.54 186.90 L718.40 187.14 L717.11 187.52 L715.70 187.88 L714.29 188.01 L713.01 187.78 L711.97 187.15 L711.24 186.16 L710.80 184.95 L710.58 183.66 L710.44 182.43 L710.24 181.34 L709.90 180.39 L709.38 179.55 L708.74 178.76 L708.05 177.93 L707.43 177.05 L706.94 176.10 L706.58 175.10 L706.34 174.06 L706.16 173.00 L706.01 171.92 L705.89 170.82 L705.85 169.70 L705.99 168.58 L706.39 167.53 L707.08 166.60 L708.04 165.83 L709.17 165.22 L710.33 164.72 L711.35 164.23 L712.15 163.63 L712.69 162.83 L713.04 161.78 L713.33 160.53 L713.71 159.21 L714.29 157.99 L715.15 157.06 L716.25 156.53 L717.52 156.42 L718.85 156.68 L720.15 157.14 L721.35 157.64 L722.46 158.03 L723.50 158.22 L724.53 158.21 L725.59 158.09 L726.68 157.94 L727.81 157.88 L728.93 157.95 L730.03 158.16 L731.11 158.48 L732.17 158.87 L733.24 159.28 L734.31 159.74 L735.36 160.27 L736.32 160.94 L737.09 161.79 L737.60 162.82 L737.83 163.99 L737.83 165.22 L737.71 166.41 L737.64 167.49 L737.79 168.43 L738.26 169.28 L739.06 170.09 L740.06 170.95 L741.09 171.92 Z" fill="#0d0202"/>
<path d="M873.5 183.3 H948" stroke="url(#arw)" stroke-width="3.6"/>
<path d="M946 175.4 L962.5 183.3 L946 191.2 Z" fill="#111"/>
<g transform="rotate(41 971 155)"><rect x="951" y="148" width="41" height="13" rx="3.5" fill="#e6eef0" stroke="#8f9a9e" stroke-width="1.3"/><rect x="949" y="158" width="45" height="4" rx="2" fill="#eef3f4" stroke="#8f9a9e" stroke-width="1.1"/></g>
<path d="M985 170 L992 177 L999 180.5" stroke="#8f9a9e" stroke-width="1.4" fill="none"/>
<path d="M1000.3 182 L1037.5 182 L1036.8 239 L1021.2 299 Q1019.3 301.5 1017.4 299 L1001 239 Z" fill="#e9f1f3" stroke="#9aa5a9" stroke-width="1.4"/>
<path d="M1001.8 239.5 L1035.5 239.5 L1020.6 296 Q1019.3 297.8 1018 296 Z" fill="#f5bfd0" stroke="#e9a7bc" stroke-width="1"/>
<path d="M1010.2 145 L1025 145 L1020.8 247 L1017.4 247 Z" fill="#dbe5e8" stroke="#98a4a8" stroke-width="1.1"/>
<path d="M1016.5 179 L1021.5 179 L1020.3 246 L1017.7 246 Z" fill="#f2bccd" opacity="0.9"/>
<rect x="1008.4" y="117.5" width="18.3" height="27.7" rx="1.5" fill="#cdd7db" stroke="#8e999d" stroke-width="1.2"/>
<rect x="998.5" y="179.2" width="40.6" height="3.6" rx="1.5" fill="#f2f6f7" stroke="#98a3a7" stroke-width="1.1"/>
<path d="M1025 192 H1032 M1025 215.5 H1032" stroke="#9aa5a9" stroke-width="1"/>
<path d="M1062 143 H1208 Q1210.3 143 1210.3 146 V252 Q1210.3 254.8 1207.5 254.8 H1062 L1056.7 249 V149 Z" fill="#e4eef0" stroke="#c3d0d3" stroke-width="1.6"/>
<path d="M1066 147.5 H1205.5 V250.5 H1066 L1061.5 246 V152 Z" fill="#e8f2f3" stroke="#d3dde0" stroke-width="1"/>
<g fill="#f4a6c0" stroke="#d89aad" stroke-width="0.9"><circle cx="1076.90" cy="160.70" r="4.6"/><circle cx="1087.89" cy="160.70" r="4.6"/><circle cx="1098.88" cy="160.70" r="4.6"/><circle cx="1109.87" cy="160.70" r="4.6"/><circle cx="1120.86" cy="160.70" r="4.6"/><circle cx="1131.85" cy="160.70" r="4.6"/><circle cx="1142.84" cy="160.70" r="4.6"/><circle cx="1153.83" cy="160.70" r="4.6"/><circle cx="1164.82" cy="160.70" r="4.6"/><circle cx="1175.81" cy="160.70" r="4.6"/><circle cx="1186.80" cy="160.70" r="4.6"/><circle cx="1197.79" cy="160.70" r="4.6"/><circle cx="1076.90" cy="171.94" r="4.6"/><circle cx="1087.89" cy="171.94" r="4.6"/><circle cx="1098.88" cy="171.94" r="4.6"/><circle cx="1109.87" cy="171.94" r="4.6"/><circle cx="1120.86" cy="171.94" r="4.6"/><circle cx="1131.85" cy="171.94" r="4.6"/><circle cx="1142.84" cy="171.94" r="4.6"/><circle cx="1153.83" cy="171.94" r="4.6"/><circle cx="1164.82" cy="171.94" r="4.6"/><circle cx="1175.81" cy="171.94" r="4.6"/><circle cx="1186.80" cy="171.94" r="4.6"/><circle cx="1197.79" cy="171.94" r="4.6"/><circle cx="1076.90" cy="183.18" r="4.6"/><circle cx="1087.89" cy="183.18" r="4.6"/><circle cx="1098.88" cy="183.18" r="4.6"/><circle cx="1109.87" cy="183.18" r="4.6"/><circle cx="1120.86" cy="183.18" r="4.6"/><circle cx="1131.85" cy="183.18" r="4.6"/><circle cx="1142.84" cy="183.18" r="4.6"/><circle cx="1153.83" cy="183.18" r="4.6"/><circle cx="1164.82" cy="183.18" r="4.6"/><circle cx="1175.81" cy="183.18" r="4.6"/><circle cx="1186.80" cy="183.18" r="4.6"/><circle cx="1197.79" cy="183.18" r="4.6"/><circle cx="1076.90" cy="194.42" r="4.6"/><circle cx="1087.89" cy="194.42" r="4.6"/><circle cx="1098.88" cy="194.42" r="4.6"/><circle cx="1109.87" cy="194.42" r="4.6"/><circle cx="1120.86" cy="194.42" r="4.6"/><circle cx="1131.85" cy="194.42" r="4.6"/><circle cx="1142.84" cy="194.42" r="4.6"/><circle cx="1153.83" cy="194.42" r="4.6"/><circle cx="1164.82" cy="194.42" r="4.6"/><circle cx="1175.81" cy="194.42" r="4.6"/><circle cx="1186.80" cy="194.42" r="4.6"/><circle cx="1197.79" cy="194.42" r="4.6"/><circle cx="1076.90" cy="205.66" r="4.6"/><circle cx="1087.89" cy="205.66" r="4.6"/><circle cx="1098.88" cy="205.66" r="4.6"/><circle cx="1109.87" cy="205.66" r="4.6"/><circle cx="1120.86" cy="205.66" r="4.6"/><circle cx="1131.85" cy="205.66" r="4.6"/><circle cx="1142.84" cy="205.66" r="4.6"/><circle cx="1153.83" cy="205.66" r="4.6"/><circle cx="1164.82" cy="205.66" r="4.6"/><circle cx="1175.81" cy="205.66" r="4.6"/><circle cx="1186.80" cy="205.66" r="4.6"/><circle cx="1197.79" cy="205.66" r="4.6"/><circle cx="1076.90" cy="216.90" r="4.6"/><circle cx="1087.89" cy="216.90" r="4.6"/><circle cx="1098.88" cy="216.90" r="4.6"/><circle cx="1109.87" cy="216.90" r="4.6"/><circle cx="1120.86" cy="216.90" r="4.6"/><circle cx="1131.85" cy="216.90" r="4.6"/><circle cx="1142.84" cy="216.90" r="4.6"/><circle cx="1153.83" cy="216.90" r="4.6"/><circle cx="1164.82" cy="216.90" r="4.6"/><circle cx="1175.81" cy="216.90" r="4.6"/><circle cx="1186.80" cy="216.90" r="4.6"/><circle cx="1197.79" cy="216.90" r="4.6"/><circle cx="1076.90" cy="228.14" r="4.6"/><circle cx="1087.89" cy="228.14" r="4.6"/><circle cx="1098.88" cy="228.14" r="4.6"/><circle cx="1109.87" cy="228.14" r="4.6"/><circle cx="1120.86" cy="228.14" r="4.6"/><circle cx="1131.85" cy="228.14" r="4.6"/><circle cx="1142.84" cy="228.14" r="4.6"/><circle cx="1153.83" cy="228.14" r="4.6"/><circle cx="1164.82" cy="228.14" r="4.6"/><circle cx="1175.81" cy="228.14" r="4.6"/><circle cx="1186.80" cy="228.14" r="4.6"/><circle cx="1197.79" cy="228.14" r="4.6"/><circle cx="1076.90" cy="239.38" r="4.6"/><circle cx="1087.89" cy="239.38" r="4.6"/><circle cx="1098.88" cy="239.38" r="4.6"/><circle cx="1109.87" cy="239.38" r="4.6"/><circle cx="1120.86" cy="239.38" r="4.6"/><circle cx="1131.85" cy="239.38" r="4.6"/><circle cx="1142.84" cy="239.38" r="4.6"/><circle cx="1153.83" cy="239.38" r="4.6"/><circle cx="1164.82" cy="239.38" r="4.6"/><circle cx="1175.81" cy="239.38" r="4.6"/><circle cx="1186.80" cy="239.38" r="4.6"/><circle cx="1197.79" cy="239.38" r="4.6"/></g>
<g font-family="Liberation Sans, sans-serif" font-size="4.2" fill="#7d8c92" text-anchor="middle"><text x="1076.90" y="153.2">1</text><text x="1087.89" y="153.2">2</text><text x="1098.88" y="153.2">3</text><text x="1109.87" y="153.2">4</text><text x="1120.86" y="153.2">5</text><text x="1131.85" y="153.2">6</text><text x="1142.84" y="153.2">7</text><text x="1153.83" y="153.2">8</text><text x="1164.82" y="153.2">9</text><text x="1175.81" y="153.2">10</text><text x="1186.80" y="153.2">11</text><text x="1197.79" y="153.2">12</text><text x="1068.2" y="162.20">A</text><text x="1068.2" y="173.44">B</text><text x="1068.2" y="184.68">C</text><text x="1068.2" y="195.92">D</text><text x="1068.2" y="207.16">E</text><text x="1068.2" y="218.40">F</text><text x="1068.2" y="229.64">G</text><text x="1068.2" y="240.88">H</text></g>
<rect x="1225.5" y="65.5" width="155.4" height="209.9" rx="5" fill="#6f797d"/>
<rect x="1236" y="76.7" width="134.7" height="187.9" fill="#ffffff"/>
<circle cx="1301.4" cy="53.5" r="12.6" fill="#a7a7a7"/><circle cx="1301.4" cy="53.5" r="4.6" fill="#ffffff"/>
<path d="M1261 59.8 H1341 Q1342.5 59.8 1342.5 62 V85.8 H1259 V62 Q1259 59.8 1261 59.8 Z" fill="#a9a9a9"/>
<path d="M1300 62 L1318 62 L1305 84 L1287 84 Z" fill="#bdbdbd" opacity="0.7"/>
<rect x="1259" y="82.5" width="83.5" height="3.3" fill="#8f8f8f"/>
<rect x="1245.9" y="91.4" width="28.4" height="28.2" fill="#7d9ccc"/>
<circle cx="1260" cy="100.5" r="6" fill="#fff"/>
<path d="M1248.5 119.6 V114 Q1249 108 1256 107.5 H1264 Q1271 108 1271.5 114 V119.6" fill="none" stroke="#fff" stroke-width="2.4"/>
<g fill="#7b9acb"><rect x="1279.7" y="91.4" width="79" height="5.6"/><rect x="1246" y="129" width="113" height="4.6"/><rect x="1246" y="187" width="113" height="4.4"/><rect x="1246" y="246" width="73.5" height="4.1"/></g>
<g fill="#a9bde0"><rect x="1279.7" y="101.6" width="79" height="18"/><rect x="1246" y="141.8" width="91.5" height="4.9"/><rect x="1246" y="153.5" width="91.5" height="4.5"/><rect x="1246" y="164.8" width="91.5" height="4.5"/><rect x="1246" y="175.6" width="91.5" height="4.5"/><rect x="1246" y="197.5" width="112.5" height="24.2"/><rect x="1260.8" y="232.5" width="19.6" height="4.1"/><rect x="1299.6" y="232.5" width="19.9" height="4.1"/></g>
<g fill="none" stroke="#a9bde0" stroke-width="1.6"><rect x="1342" y="140.6" width="16.2" height="15"/><rect x="1342" y="165.4" width="16.2" height="15"/><rect x="1246.6" y="232" width="11" height="10.6"/><rect x="1285" y="232" width="11" height="10.6"/></g>
<path d="M1341.8 231.6 H1348.6 V239.2 H1356.2 V246.2 H1348.6 V253.8 H1341.8 V246.2 H1334.2 V239.2 H1341.8 Z" fill="#cf3a3a"/>
<text x="585.00" y="35.80" class="at" textLength="210.97" lengthAdjust="spacingAndGlyphs">Culture of tumour</text>
<text x="585.00" y="66.60" class="at" textLength="254.42" lengthAdjust="spacingAndGlyphs">explants for 72 hours</text>
<text x="975.50" y="35.10" class="at" textLength="220.42" lengthAdjust="spacingAndGlyphs">Correlate secreted</text>
<text x="975.50" y="65.50" class="at" textLength="205.93" lengthAdjust="spacingAndGlyphs">factors to patient</text>
<text x="975.50" y="96.70" class="at" textLength="177.40" lengthAdjust="spacingAndGlyphs">characteristics</text>
<text x="4" y="28.3" class="pl">A</text>
<text x="3" y="384" class="pl">B</text>
<text x="951.5" y="384" class="pl">C</text>
<text x="393.5" y="1107.5" class="pl">D</text>
<g>
<rect x="176.70" y="448.20" width="28.20" height="28.07" fill="#dedede"/>
<rect x="209.30" y="480.67" width="28.20" height="28.07" fill="#dedede"/>
<rect x="241.90" y="513.14" width="28.20" height="28.07" fill="#dedede"/>
<rect x="274.50" y="545.61" width="28.20" height="28.07" fill="#dedede"/>
<rect x="307.10" y="578.08" width="28.20" height="28.07" fill="#dedede"/>
<rect x="339.70" y="610.55" width="28.20" height="28.07" fill="#dedede"/>
<rect x="372.30" y="643.02" width="28.20" height="28.07" fill="#dedede"/>
<rect x="404.90" y="675.49" width="28.20" height="28.07" fill="#dedede"/>
<rect x="437.50" y="707.96" width="28.20" height="28.07" fill="#dedede"/>
<rect x="470.10" y="740.43" width="28.20" height="28.07" fill="#dedede"/>
<rect x="502.70" y="772.90" width="28.20" height="28.07" fill="#dedede"/>
<rect x="535.30" y="805.37" width="28.20" height="28.07" fill="#dedede"/>
<rect x="567.90" y="837.84" width="28.20" height="28.07" fill="#dedede"/>
<rect x="600.50" y="870.31" width="28.20" height="28.07" fill="#dedede"/>
<rect x="633.10" y="902.78" width="28.20" height="28.07" fill="#dedede"/>
<rect x="665.70" y="935.25" width="28.20" height="28.07" fill="#dedede"/>
<rect x="698.30" y="967.72" width="28.20" height="28.07" fill="#dedede"/>
<rect x="730.90" y="1000.19" width="28.20" height="28.07" fill="#dedede"/>
<rect x="763.50" y="1032.66" width="28.20" height="28.07" fill="#dedede"/>
<path d="M207.10 446.00V1062.93M174.50 478.47H793.90M239.70 446.00V1062.93M174.50 510.94H793.90M272.30 446.00V1062.93M174.50 543.41H793.90M304.90 446.00V1062.93M174.50 575.88H793.90M337.50 446.00V1062.93M174.50 608.35H793.90M370.10 446.00V1062.93M174.50 640.82H793.90M402.70 446.00V1062.93M174.50 673.29H793.90M435.30 446.00V1062.93M174.50 705.76H793.90M467.90 446.00V1062.93M174.50 738.23H793.90M500.50 446.00V1062.93M174.50 770.70H793.90M533.10 446.00V1062.93M174.50 803.17H793.90M565.70 446.00V1062.93M174.50 835.64H793.90M598.30 446.00V1062.93M174.50 868.11H793.90M630.90 446.00V1062.93M174.50 900.58H793.90M663.50 446.00V1062.93M174.50 933.05H793.90M696.10 446.00V1062.93M174.50 965.52H793.90M728.70 446.00V1062.93M174.50 997.99H793.90M761.30 446.00V1062.93M174.50 1030.46H793.90" stroke="#7a7a7a" stroke-width="1.8" fill="none"/>
<rect x="174.50" y="446.00" width="619.40" height="616.93" stroke="#3a3a3a" stroke-width="2.2" fill="none"/>
<circle cx="223.40" cy="462.24" r="12.29" fill="#2424ff"/>
<text x="224.15" y="468.72" class="st">**</text>
<circle cx="256.00" cy="462.24" r="13.00" fill="#1717ff"/>
<text x="256.75" y="468.72" class="st">***</text>
<circle cx="288.60" cy="462.24" r="11.86" fill="#2b2bff"/>
<text x="289.35" y="468.72" class="st">**</text>
<circle cx="321.20" cy="462.24" r="13.86" fill="#0808ff"/>
<text x="321.95" y="468.72" class="st">***</text>
<circle cx="353.80" cy="462.24" r="12.72" fill="#1c1cff"/>
<text x="354.55" y="468.72" class="st">***</text>
<circle cx="386.40" cy="462.24" r="13.43" fill="#0f0fff"/>
<text x="387.15" y="468.72" class="st">***</text>
<circle cx="419.00" cy="462.24" r="7.71" fill="#7575ff"/>
<circle cx="451.60" cy="462.24" r="9.86" fill="#4f4fff"/>
<text x="452.35" y="468.72" class="st">*</text>
<circle cx="484.20" cy="462.24" r="12.29" fill="#2424ff"/>
<text x="484.95" y="468.72" class="st">**</text>
<circle cx="516.80" cy="462.24" r="7.00" fill="#ff8282"/>
<circle cx="549.40" cy="462.24" r="5.00" fill="#ffa6a6"/>
<circle cx="582.00" cy="462.24" r="1.00" fill="#ffeded"/>
<circle cx="614.60" cy="462.24" r="0.71" fill="#fff2f2"/>
<circle cx="647.20" cy="462.24" r="3.14" fill="#ffc7c7"/>
<circle cx="679.80" cy="462.24" r="3.14" fill="#ffc7c7"/>
<circle cx="712.40" cy="462.24" r="2.57" fill="#ffd1d1"/>
<circle cx="745.00" cy="462.24" r="1.86" fill="#dedeff"/>
<circle cx="777.60" cy="462.24" r="5.71" fill="#ff9999"/>
<circle cx="256.00" cy="494.70" r="13.57" fill="#0d0dff"/>
<text x="256.75" y="501.19" class="st">***</text>
<circle cx="288.60" cy="494.70" r="13.57" fill="#0d0dff"/>
<text x="289.35" y="501.19" class="st">***</text>
<circle cx="321.20" cy="494.70" r="12.00" fill="#2929ff"/>
<text x="321.95" y="501.19" class="st">**</text>
<circle cx="353.80" cy="494.70" r="13.57" fill="#0d0dff"/>
<text x="354.55" y="501.19" class="st">***</text>
<circle cx="386.40" cy="494.70" r="12.14" fill="#2626ff"/>
<text x="387.15" y="501.19" class="st">**</text>
<circle cx="419.00" cy="494.70" r="4.71" fill="#ababff"/>
<circle cx="451.60" cy="494.70" r="10.72" fill="#4040ff"/>
<text x="452.35" y="501.19" class="st">*</text>
<circle cx="484.20" cy="494.70" r="13.57" fill="#0d0dff"/>
<text x="484.95" y="501.19" class="st">***</text>
<circle cx="516.80" cy="494.70" r="4.57" fill="#ffadad"/>
<circle cx="549.40" cy="494.70" r="8.57" fill="#ff6666"/>
<circle cx="582.00" cy="494.70" r="2.43" fill="#ffd4d4"/>
<circle cx="614.60" cy="494.70" r="2.86" fill="#ffcccc"/>
<circle cx="647.20" cy="494.70" r="1.14" fill="#ffebeb"/>
<circle cx="712.40" cy="494.70" r="8.57" fill="#ff6666"/>
<circle cx="745.00" cy="494.70" r="0.86" fill="#fff0f0"/>
<circle cx="777.60" cy="494.70" r="4.14" fill="#ffb5b5"/>
<circle cx="288.60" cy="527.17" r="12.57" fill="#1f1fff"/>
<text x="289.35" y="533.65" class="st">***</text>
<circle cx="321.20" cy="527.17" r="12.29" fill="#2424ff"/>
<text x="321.95" y="533.65" class="st">**</text>
<circle cx="353.80" cy="527.17" r="13.00" fill="#1717ff"/>
<text x="354.55" y="533.65" class="st">***</text>
<circle cx="386.40" cy="527.17" r="12.86" fill="#1919ff"/>
<text x="387.15" y="533.65" class="st">***</text>
<circle cx="419.00" cy="527.17" r="4.57" fill="#adadff"/>
<circle cx="451.60" cy="527.17" r="9.57" fill="#5454ff"/>
<text x="452.35" y="533.65" class="st">*</text>
<circle cx="484.20" cy="527.17" r="12.72" fill="#1c1cff"/>
<text x="484.95" y="533.65" class="st">***</text>
<circle cx="516.80" cy="527.17" r="4.57" fill="#ffadad"/>
<circle cx="549.40" cy="527.17" r="6.43" fill="#ff8c8c"/>
<circle cx="582.00" cy="527.17" r="0.57" fill="#fff5f5"/>
<circle cx="614.60" cy="527.17" r="0.57" fill="#fff5f5"/>
<circle cx="647.20" cy="527.17" r="0.43" fill="#fff7f7"/>
<circle cx="679.80" cy="527.17" r="2.14" fill="#ffd9d9"/>
<circle cx="712.40" cy="527.17" r="6.86" fill="#ff8585"/>
<circle cx="745.00" cy="527.17" r="0.86" fill="#f0f0ff"/>
<circle cx="777.60" cy="527.17" r="4.14" fill="#ffb5b5"/>
<circle cx="321.20" cy="559.64" r="11.29" fill="#3636ff"/>
<text x="321.95" y="566.12" class="st">**</text>
<circle cx="353.80" cy="559.64" r="13.57" fill="#0d0dff"/>
<text x="354.55" y="566.12" class="st">***</text>
<circle cx="386.40" cy="559.64" r="11.14" fill="#3838ff"/>
<text x="387.15" y="566.12" class="st">**</text>
<circle cx="419.00" cy="559.64" r="3.57" fill="#bfbfff"/>
<circle cx="451.60" cy="559.64" r="11.72" fill="#2e2eff"/>
<text x="452.35" y="566.12" class="st">**</text>
<circle cx="484.20" cy="559.64" r="13.57" fill="#0d0dff"/>
<text x="484.95" y="566.12" class="st">***</text>
<circle cx="516.80" cy="559.64" r="3.29" fill="#ffc4c4"/>
<circle cx="549.40" cy="559.64" r="9.29" fill="#ff5959"/>
<text x="550.15" y="566.12" class="st">*</text>
<circle cx="582.00" cy="559.64" r="2.57" fill="#ffd1d1"/>
<circle cx="614.60" cy="559.64" r="2.71" fill="#ffcfcf"/>
<circle cx="647.20" cy="559.64" r="1.71" fill="#ffe0e0"/>
<circle cx="679.80" cy="559.64" r="2.14" fill="#ffd9d9"/>
<circle cx="712.40" cy="559.64" r="6.86" fill="#ff8585"/>
<circle cx="745.00" cy="559.64" r="1.86" fill="#dedeff"/>
<circle cx="777.60" cy="559.64" r="1.71" fill="#ffe0e0"/>
<circle cx="353.80" cy="592.12" r="12.14" fill="#2626ff"/>
<text x="354.55" y="598.60" class="st">**</text>
<circle cx="386.40" cy="592.12" r="13.43" fill="#0f0fff"/>
<text x="387.15" y="598.60" class="st">***</text>
<circle cx="419.00" cy="592.12" r="9.00" fill="#5e5eff"/>
<text x="419.75" y="598.60" class="st">*</text>
<circle cx="451.60" cy="592.12" r="10.72" fill="#4040ff"/>
<text x="452.35" y="598.60" class="st">**</text>
<circle cx="484.20" cy="592.12" r="11.86" fill="#2b2bff"/>
<text x="484.95" y="598.60" class="st">**</text>
<circle cx="516.80" cy="592.12" r="8.00" fill="#ff7070"/>
<circle cx="549.40" cy="592.12" r="4.29" fill="#ffb2b2"/>
<circle cx="582.00" cy="592.12" r="2.00" fill="#ffdbdb"/>
<circle cx="614.60" cy="592.12" r="1.43" fill="#ffe6e6"/>
<circle cx="647.20" cy="592.12" r="4.29" fill="#ffb2b2"/>
<circle cx="679.80" cy="592.12" r="3.14" fill="#ffc7c7"/>
<circle cx="712.40" cy="592.12" r="1.71" fill="#ffe0e0"/>
<circle cx="777.60" cy="592.12" r="7.43" fill="#ff7a7a"/>
<circle cx="386.40" cy="624.59" r="11.86" fill="#2b2bff"/>
<text x="387.15" y="631.07" class="st">**</text>
<circle cx="419.00" cy="624.59" r="6.14" fill="#9191ff"/>
<circle cx="451.60" cy="624.59" r="11.86" fill="#2b2bff"/>
<text x="452.35" y="631.07" class="st">**</text>
<circle cx="484.20" cy="624.59" r="14.00" fill="#0505ff"/>
<text x="484.95" y="631.07" class="st">***</text>
<circle cx="516.80" cy="624.59" r="5.00" fill="#ffa6a6"/>
<circle cx="549.40" cy="624.59" r="6.86" fill="#ff8585"/>
<circle cx="582.00" cy="624.59" r="1.86" fill="#ffdede"/>
<circle cx="614.60" cy="624.59" r="2.43" fill="#ffd4d4"/>
<circle cx="647.20" cy="624.59" r="1.43" fill="#ffe6e6"/>
<circle cx="679.80" cy="624.59" r="1.00" fill="#ffeded"/>
<circle cx="712.40" cy="624.59" r="6.00" fill="#ff9494"/>
<circle cx="745.00" cy="624.59" r="1.86" fill="#dedeff"/>
<circle cx="777.60" cy="624.59" r="4.14" fill="#ffb5b5"/>
<circle cx="419.00" cy="657.06" r="7.57" fill="#7878ff"/>
<circle cx="451.60" cy="657.06" r="9.86" fill="#4f4fff"/>
<text x="452.35" y="663.54" class="st">*</text>
<circle cx="484.20" cy="657.06" r="11.86" fill="#2b2bff"/>
<text x="484.95" y="663.54" class="st">**</text>
<circle cx="516.80" cy="657.06" r="8.29" fill="#ff6b6b"/>
<circle cx="549.40" cy="657.06" r="3.86" fill="#ffbaba"/>
<circle cx="582.00" cy="657.06" r="2.14" fill="#ffd9d9"/>
<circle cx="614.60" cy="657.06" r="2.00" fill="#ffdbdb"/>
<circle cx="647.20" cy="657.06" r="3.86" fill="#ffbaba"/>
<circle cx="679.80" cy="657.06" r="4.29" fill="#ffb2b2"/>
<circle cx="712.40" cy="657.06" r="2.57" fill="#ffd1d1"/>
<circle cx="777.60" cy="657.06" r="7.43" fill="#ff7a7a"/>
<circle cx="451.60" cy="689.52" r="6.71" fill="#8787ff"/>
<circle cx="484.20" cy="689.52" r="5.14" fill="#a3a3ff"/>
<circle cx="516.80" cy="689.52" r="8.86" fill="#ff6161"/>
<text x="517.55" y="696.00" class="st">*</text>
<circle cx="549.40" cy="689.52" r="5.00" fill="#a6a6ff"/>
<circle cx="582.00" cy="689.52" r="2.14" fill="#d9d9ff"/>
<circle cx="614.60" cy="689.52" r="1.29" fill="#e8e8ff"/>
<circle cx="647.20" cy="689.52" r="1.14" fill="#ffebeb"/>
<circle cx="712.40" cy="689.52" r="2.57" fill="#d1d1ff"/>
<circle cx="745.00" cy="689.52" r="2.71" fill="#ffcfcf"/>
<circle cx="777.60" cy="689.52" r="9.14" fill="#ff5c5c"/>
<circle cx="484.20" cy="722.00" r="11.43" fill="#3333ff"/>
<text x="484.95" y="728.48" class="st">**</text>
<circle cx="516.80" cy="722.00" r="5.71" fill="#ff9999"/>
<circle cx="549.40" cy="722.00" r="4.71" fill="#ffabab"/>
<circle cx="582.00" cy="722.00" r="2.71" fill="#ffcfcf"/>
<circle cx="614.60" cy="722.00" r="2.86" fill="#ffcccc"/>
<circle cx="647.20" cy="722.00" r="3.86" fill="#ffbaba"/>
<circle cx="679.80" cy="722.00" r="3.14" fill="#ffc7c7"/>
<circle cx="712.40" cy="722.00" r="2.57" fill="#ffd1d1"/>
<circle cx="745.00" cy="722.00" r="0.86" fill="#fff0f0"/>
<circle cx="777.60" cy="722.00" r="5.71" fill="#ff9999"/>
<circle cx="516.80" cy="754.46" r="6.14" fill="#ff9191"/>
<circle cx="549.40" cy="754.46" r="7.86" fill="#ff7373"/>
<circle cx="582.00" cy="754.46" r="4.00" fill="#ffb8b8"/>
<circle cx="614.60" cy="754.46" r="4.57" fill="#ffadad"/>
<circle cx="647.20" cy="754.46" r="3.29" fill="#ffc4c4"/>
<circle cx="712.40" cy="754.46" r="6.00" fill="#ff9494"/>
<circle cx="745.00" cy="754.46" r="1.86" fill="#dedeff"/>
<circle cx="777.60" cy="754.46" r="4.14" fill="#ffb5b5"/>
<circle cx="549.40" cy="786.93" r="1.71" fill="#ffe0e0"/>
<circle cx="582.00" cy="786.93" r="6.14" fill="#9191ff"/>
<circle cx="614.60" cy="786.93" r="5.57" fill="#9c9cff"/>
<circle cx="647.20" cy="786.93" r="9.86" fill="#4f4fff"/>
<text x="647.95" y="793.41" class="st">*</text>
<circle cx="679.80" cy="786.93" r="2.71" fill="#ffcfcf"/>
<circle cx="712.40" cy="786.93" r="4.29" fill="#ffb2b2"/>
<circle cx="745.00" cy="786.93" r="1.43" fill="#e6e6ff"/>
<circle cx="777.60" cy="786.93" r="9.57" fill="#5454ff"/>
<text x="778.35" y="793.41" class="st">*</text>
<circle cx="582.00" cy="819.40" r="7.57" fill="#7878ff"/>
<circle cx="614.60" cy="819.40" r="7.00" fill="#8282ff"/>
<circle cx="647.20" cy="819.40" r="3.57" fill="#bfbfff"/>
<circle cx="679.80" cy="819.40" r="2.14" fill="#ffd9d9"/>
<circle cx="712.40" cy="819.40" r="8.57" fill="#6666ff"/>
<circle cx="745.00" cy="819.40" r="0.86" fill="#f0f0ff"/>
<circle cx="777.60" cy="819.40" r="2.43" fill="#ffd4d4"/>
<circle cx="614.60" cy="851.88" r="13.72" fill="#0a0aff"/>
<text x="615.35" y="858.36" class="st">***</text>
<circle cx="647.20" cy="851.88" r="12.00" fill="#2929ff"/>
<text x="647.95" y="858.36" class="st">**</text>
<circle cx="679.80" cy="851.88" r="4.29" fill="#ffb2b2"/>
<circle cx="745.00" cy="851.88" r="2.71" fill="#cfcfff"/>
<circle cx="777.60" cy="851.88" r="5.00" fill="#a6a6ff"/>
<circle cx="647.20" cy="884.35" r="10.29" fill="#4747ff"/>
<text x="647.95" y="890.83" class="st">*</text>
<circle cx="679.80" cy="884.35" r="5.29" fill="#ffa1a1"/>
<circle cx="712.40" cy="884.35" r="1.71" fill="#e0e0ff"/>
<circle cx="745.00" cy="884.35" r="3.71" fill="#bdbdff"/>
<circle cx="777.60" cy="884.35" r="5.71" fill="#9999ff"/>
<circle cx="679.80" cy="916.82" r="1.00" fill="#ffeded"/>
<circle cx="712.40" cy="916.82" r="6.00" fill="#ff9494"/>
<circle cx="745.00" cy="916.82" r="0.43" fill="#f7f7ff"/>
<circle cx="777.60" cy="916.82" r="6.14" fill="#9191ff"/>
<circle cx="712.40" cy="949.28" r="5.14" fill="#ffa3a3"/>
<circle cx="745.00" cy="949.28" r="4.14" fill="#ffb5b5"/>
<circle cx="777.60" cy="949.28" r="0.57" fill="#fff5f5"/>
<circle cx="745.00" cy="981.75" r="5.57" fill="#9c9cff"/>
<circle cx="777.60" cy="981.75" r="1.00" fill="#ffeded"/>
<circle cx="777.60" cy="1014.23" r="8.00" fill="#7070ff"/>
<text x="190.80" y="494.70" class="nm" fill="#2020d3">.86</text>
<text x="190.80" y="527.17" class="nm" fill="#1515d2">.91</text>
<text x="223.40" y="527.17" class="nm" fill="#0b0bd1">.95</text>
<text x="190.80" y="559.64" class="nm" fill="#2727d3">.83</text>
<text x="223.40" y="559.64" class="nm" fill="#0b0bd1">.95</text>
<text x="256.00" y="559.64" class="nm" fill="#1c1cd2">.88</text>
<text x="190.80" y="592.12" class="nm" fill="#0707d1">.97</text>
<text x="223.40" y="592.12" class="nm" fill="#2525d3">.84</text>
<text x="256.00" y="592.12" class="nm" fill="#2020d3">.86</text>
<text x="288.60" y="592.12" class="nm" fill="#3030d4">.79</text>
<text x="190.80" y="624.59" class="nm" fill="#1919d2">.89</text>
<text x="223.40" y="624.59" class="nm" fill="#0b0bd1">.95</text>
<text x="256.00" y="624.59" class="nm" fill="#1515d2">.91</text>
<text x="288.60" y="624.59" class="nm" fill="#0b0bd1">.95</text>
<text x="321.20" y="624.59" class="nm" fill="#2222d3">.85</text>
<text x="190.80" y="657.06" class="nm" fill="#0e0ed1">.94</text>
<text x="223.40" y="657.06" class="nm" fill="#2222d3">.85</text>
<text x="256.00" y="657.06" class="nm" fill="#1717d2">.90</text>
<text x="288.60" y="657.06" class="nm" fill="#3232d4">.78</text>
<text x="321.20" y="657.06" class="nm" fill="#0e0ed1">.94</text>
<text x="353.80" y="657.06" class="nm" fill="#2727d3">.83</text>
<text x="190.80" y="689.52" class="nm" fill="#6a6ad8">.54</text>
<text x="223.40" y="689.52" class="nm" fill="#7e7eda">.33</text>
<text x="256.00" y="689.52" class="nm" fill="#7e7eda">.32</text>
<text x="288.60" y="689.52" class="nm" fill="#7e7eda">.25</text>
<text x="321.20" y="689.52" class="nm" fill="#5555d7">.63</text>
<text x="353.80" y="689.52" class="nm" fill="#7e7eda">.43</text>
<text x="386.40" y="689.52" class="nm" fill="#6c6cd9">.53</text>
<text x="190.80" y="722.00" class="nm" fill="#4747d6">.69</text>
<text x="223.40" y="722.00" class="nm" fill="#3939d5">.75</text>
<text x="256.00" y="722.00" class="nm" fill="#4c4cd6">.67</text>
<text x="288.60" y="722.00" class="nm" fill="#2929d3">.82</text>
<text x="321.20" y="722.00" class="nm" fill="#3939d5">.75</text>
<text x="353.80" y="722.00" class="nm" fill="#2727d3">.83</text>
<text x="386.40" y="722.00" class="nm" fill="#4747d6">.69</text>
<text x="419.00" y="722.00" class="nm" fill="#7a7ada">.47</text>
<text x="190.80" y="754.46" class="nm" fill="#2020d3">.86</text>
<text x="223.40" y="754.46" class="nm" fill="#0b0bd1">.95</text>
<text x="256.00" y="754.46" class="nm" fill="#1919d2">.89</text>
<text x="288.60" y="754.46" class="nm" fill="#0b0bd1">.95</text>
<text x="321.20" y="754.46" class="nm" fill="#2727d3">.83</text>
<text x="353.80" y="754.46" class="nm" fill="#0505d0">.98</text>
<text x="386.40" y="754.46" class="nm" fill="#2727d3">.83</text>
<text x="419.00" y="754.46" class="nm" fill="#7e7eda">.36</text>
<text x="451.60" y="754.46" class="nm" fill="#2e2ed4">.80</text>
<text x="190.80" y="786.93" class="nm" fill="#ec7c86">-.49</text>
<text x="223.40" y="786.93" class="nm" fill="#ee858f">-.32</text>
<text x="256.00" y="786.93" class="nm" fill="#ee858f">-.32</text>
<text x="288.60" y="786.93" class="nm" fill="#ee858f">-.23</text>
<text x="321.20" y="786.93" class="nm" fill="#e86b75">-.56</text>
<text x="353.80" y="786.93" class="nm" fill="#ee858f">-.35</text>
<text x="386.40" y="786.93" class="nm" fill="#e76670">-.58</text>
<text x="419.00" y="786.93" class="nm" fill="#e55c66">-.62</text>
<text x="451.60" y="786.93" class="nm" fill="#ee858f">-.40</text>
<text x="484.20" y="786.93" class="nm" fill="#ee858f">-.43</text>
<text x="190.80" y="819.40" class="nm" fill="#ee858f">-.35</text>
<text x="223.40" y="819.40" class="nm" fill="#e6616b">-.60</text>
<text x="256.00" y="819.40" class="nm" fill="#ee858f">-.45</text>
<text x="288.60" y="819.40" class="nm" fill="#e3555f">-.65</text>
<text x="321.20" y="819.40" class="nm" fill="#ee858f">-.30</text>
<text x="353.80" y="819.40" class="nm" fill="#ec7e88">-.48</text>
<text x="386.40" y="819.40" class="nm" fill="#ee858f">-.27</text>
<text x="419.00" y="819.40" class="nm" fill="#7e7eda">.35</text>
<text x="451.60" y="819.40" class="nm" fill="#ee858f">-.33</text>
<text x="484.20" y="819.40" class="nm" fill="#e96d77">-.55</text>
<text x="516.80" y="819.40" class="nm" fill="#ee858f">-.12</text>
<text x="190.80" y="851.88" class="nm" fill="#ee858f">-.07</text>
<text x="223.40" y="851.88" class="nm" fill="#ee858f">-.17</text>
<text x="256.00" y="851.88" class="nm" fill="#ee858f">-.04</text>
<text x="288.60" y="851.88" class="nm" fill="#ee858f">-.18</text>
<text x="321.20" y="851.88" class="nm" fill="#ee858f">-.14</text>
<text x="353.80" y="851.88" class="nm" fill="#ee858f">-.13</text>
<text x="386.40" y="851.88" class="nm" fill="#ee858f">-.15</text>
<text x="419.00" y="851.88" class="nm" fill="#7e7eda">.15</text>
<text x="451.60" y="851.88" class="nm" fill="#ee858f">-.19</text>
<text x="484.20" y="851.88" class="nm" fill="#ee858f">-.28</text>
<text x="516.80" y="851.88" class="nm" fill="#7e7eda">.43</text>
<text x="549.40" y="851.88" class="nm" fill="#6c6cd9">.53</text>
<text x="190.80" y="884.35" class="nm" fill="#ee858f">-.05</text>
<text x="223.40" y="884.35" class="nm" fill="#ee858f">-.20</text>
<text x="256.00" y="884.35" class="nm" fill="#ee858f">-.04</text>
<text x="288.60" y="884.35" class="nm" fill="#ee858f">-.19</text>
<text x="321.20" y="884.35" class="nm" fill="#ee858f">-.10</text>
<text x="353.80" y="884.35" class="nm" fill="#ee858f">-.17</text>
<text x="386.40" y="884.35" class="nm" fill="#ee858f">-.14</text>
<text x="419.00" y="884.35" class="nm" fill="#7e7eda">.09</text>
<text x="451.60" y="884.35" class="nm" fill="#ee858f">-.20</text>
<text x="484.20" y="884.35" class="nm" fill="#ee858f">-.32</text>
<text x="516.80" y="884.35" class="nm" fill="#7e7eda">.39</text>
<text x="549.40" y="884.35" class="nm" fill="#7575d9">.49</text>
<text x="582.00" y="884.35" class="nm" fill="#0909d1">.96</text>
<text x="190.80" y="916.82" class="nm" fill="#ee858f">-.22</text>
<text x="223.40" y="916.82" class="nm" fill="#ee858f">-.08</text>
<text x="256.00" y="916.82" class="nm" fill="#ee858f">-.03</text>
<text x="288.60" y="916.82" class="nm" fill="#ee858f">-.12</text>
<text x="321.20" y="916.82" class="nm" fill="#ee858f">-.30</text>
<text x="353.80" y="916.82" class="nm" fill="#ee858f">-.10</text>
<text x="386.40" y="916.82" class="nm" fill="#ee858f">-.27</text>
<text x="419.00" y="916.82" class="nm" fill="#ee858f">-.08</text>
<text x="451.60" y="916.82" class="nm" fill="#ee858f">-.27</text>
<text x="484.20" y="916.82" class="nm" fill="#ee858f">-.23</text>
<text x="516.80" y="916.82" class="nm" fill="#4747d6">.69</text>
<text x="549.40" y="916.82" class="nm" fill="#7e7eda">.25</text>
<text x="582.00" y="916.82" class="nm" fill="#2525d3">.84</text>
<text x="614.60" y="916.82" class="nm" fill="#4040d5">.72</text>
<text x="190.80" y="949.28" class="nm" fill="#ee858f">-.22</text>
<text x="256.00" y="949.28" class="nm" fill="#ee858f">-.15</text>
<text x="288.60" y="949.28" class="nm" fill="#ee858f">-.15</text>
<text x="321.20" y="949.28" class="nm" fill="#ee858f">-.22</text>
<text x="353.80" y="949.28" class="nm" fill="#ee858f">-.07</text>
<text x="386.40" y="949.28" class="nm" fill="#ee858f">-.30</text>
<text x="451.60" y="949.28" class="nm" fill="#ee858f">-.22</text>
<text x="516.80" y="949.28" class="nm" fill="#ee858f">-.19</text>
<text x="549.40" y="949.28" class="nm" fill="#ee858f">-.15</text>
<text x="582.00" y="949.28" class="nm" fill="#ee858f">-.30</text>
<text x="614.60" y="949.28" class="nm" fill="#ee858f">-.37</text>
<text x="647.20" y="949.28" class="nm" fill="#ee858f">-.07</text>
<text x="190.80" y="981.75" class="nm" fill="#ee858f">-.18</text>
<text x="223.40" y="981.75" class="nm" fill="#e6616b">-.60</text>
<text x="256.00" y="981.75" class="nm" fill="#ec7e88">-.48</text>
<text x="288.60" y="981.75" class="nm" fill="#ec7e88">-.48</text>
<text x="321.20" y="981.75" class="nm" fill="#ee858f">-.12</text>
<text x="353.80" y="981.75" class="nm" fill="#ee858f">-.42</text>
<text x="386.40" y="981.75" class="nm" fill="#ee858f">-.18</text>
<text x="419.00" y="981.75" class="nm" fill="#7e7eda">.18</text>
<text x="451.60" y="981.75" class="nm" fill="#ee858f">-.18</text>
<text x="484.20" y="981.75" class="nm" fill="#ee858f">-.42</text>
<text x="516.80" y="981.75" class="nm" fill="#ee858f">-.30</text>
<text x="549.40" y="981.75" class="nm" fill="#5c5cd7">.60</text>
<text x="614.60" y="981.75" class="nm" fill="#7e7eda">.12</text>
<text x="647.20" y="981.75" class="nm" fill="#ee858f">-.42</text>
<text x="679.80" y="981.75" class="nm" fill="#ee858f">-.36</text>
<text x="190.80" y="1014.23" class="nm" fill="#7e7eda">.13</text>
<text x="223.40" y="1014.23" class="nm" fill="#ee858f">-.06</text>
<text x="256.00" y="1014.23" class="nm" fill="#7e7eda">.06</text>
<text x="288.60" y="1014.23" class="nm" fill="#7e7eda">.13</text>
<text x="353.80" y="1014.23" class="nm" fill="#7e7eda">.13</text>
<text x="419.00" y="1014.23" class="nm" fill="#ee858f">-.19</text>
<text x="451.60" y="1014.23" class="nm" fill="#ee858f">-.06</text>
<text x="484.20" y="1014.23" class="nm" fill="#7e7eda">.13</text>
<text x="516.80" y="1014.23" class="nm" fill="#7e7eda">.10</text>
<text x="549.40" y="1014.23" class="nm" fill="#7e7eda">.06</text>
<text x="582.00" y="1014.23" class="nm" fill="#7e7eda">.19</text>
<text x="614.60" y="1014.23" class="nm" fill="#7e7eda">.26</text>
<text x="647.20" y="1014.23" class="nm" fill="#7e7eda">.03</text>
<text x="679.80" y="1014.23" class="nm" fill="#ee858f">-.29</text>
<text x="712.40" y="1014.23" class="nm" fill="#7e7eda">.39</text>
<text x="190.80" y="1046.69" class="nm" fill="#ee858f">-.40</text>
<text x="223.40" y="1046.69" class="nm" fill="#ee858f">-.29</text>
<text x="256.00" y="1046.69" class="nm" fill="#ee858f">-.29</text>
<text x="288.60" y="1046.69" class="nm" fill="#ee858f">-.12</text>
<text x="321.20" y="1046.69" class="nm" fill="#ea747e">-.52</text>
<text x="353.80" y="1046.69" class="nm" fill="#ee858f">-.29</text>
<text x="386.40" y="1046.69" class="nm" fill="#ea747e">-.52</text>
<text x="419.00" y="1046.69" class="nm" fill="#e45761">-.64</text>
<text x="451.60" y="1046.69" class="nm" fill="#ee858f">-.40</text>
<text x="484.20" y="1046.69" class="nm" fill="#ee858f">-.29</text>
<text x="516.80" y="1046.69" class="nm" fill="#4c4cd6">.67</text>
<text x="549.40" y="1046.69" class="nm" fill="#ee858f">-.17</text>
<text x="582.00" y="1046.69" class="nm" fill="#7e7eda">.35</text>
<text x="614.60" y="1046.69" class="nm" fill="#7e7eda">.40</text>
<text x="647.20" y="1046.69" class="nm" fill="#7e7eda">.43</text>
<text x="679.80" y="1046.69" class="nm" fill="#ee858f">-.04</text>
<text x="712.40" y="1046.69" class="nm" fill="#ee858f">-.07</text>
<text x="745.00" y="1046.69" class="nm" fill="#6565d8">.56</text>
<text x="169.00" y="469.71" class="rl" font-size="20.5">IFN-<tspan font-style="italic">γ</tspan></text>
<text x="169.00" y="502.18" class="rl" font-size="20.5">IL-10</text>
<text x="169.00" y="534.65" class="rl" font-size="20.5">IL-12p70</text>
<text x="169.00" y="567.12" class="rl" font-size="20.5">IL-13</text>
<text x="169.00" y="599.59" class="rl" font-size="20.5">IL-1<tspan font-style="italic">β</tspan></text>
<text x="169.00" y="632.06" class="rl" font-size="20.5">IL-2</text>
<text x="169.00" y="664.53" class="rl" font-size="20.5">IL-4</text>
<text x="169.00" y="697.00" class="rl" font-size="20.5">IL-6</text>
<text x="169.00" y="729.47" class="rl" font-size="20.5">IL-8</text>
<text x="169.00" y="761.94" class="rl" font-size="20.5">TNF-<tspan font-style="italic">α</tspan></text>
<text x="169.00" y="794.41" class="rl" font-size="20.5">Age</text>
<text x="169.00" y="826.88" class="rl" font-size="20.5">Thickness</text>
<text x="169.00" y="859.35" class="rl" font-size="20.5">Dimensions</text>
<text x="169.00" y="891.82" class="rl" font-size="20.5">LUD</text>
<text x="169.00" y="924.29" class="rl" font-size="20.5">LUH</text>
<text x="169.00" y="956.76" class="rl" font-size="20.5">Sex</text>
<text x="169.00" y="989.23" class="rl" font-size="20.5">Cell Type</text>
<text x="169.00" y="1021.70" class="rl" font-size="20.5">Monosomy 3</text>
<text x="169.00" y="1054.17" class="rl" font-size="20.5">Chr8 Alterations</text>
<text transform="translate(202.10 435.50) scale(1 1.0000) rotate(-45)" class="cl" font-size="20.5">IFN-<tspan font-style="italic">γ</tspan></text>
<text transform="translate(232.90 438.50) scale(1 1.0000) rotate(-45)" class="cl" font-size="20.5">IL-10</text>
<text transform="translate(265.50 438.50) scale(1 1.0000) rotate(-45)" class="cl" font-size="20.5">IL-12p70</text>
<text transform="translate(298.10 438.50) scale(1 1.0000) rotate(-45)" class="cl" font-size="20.5">IL-13</text>
<text transform="translate(332.50 435.50) scale(1 1.0000) rotate(-45)" class="cl" font-size="20.5">IL-1<tspan font-style="italic">β</tspan></text>
<text transform="translate(363.30 438.50) scale(1 1.0000) rotate(-45)" class="cl" font-size="20.5">IL-2</text>
<text transform="translate(395.90 438.50) scale(1 1.0000) rotate(-45)" class="cl" font-size="20.5">IL-4</text>
<text transform="translate(428.50 438.50) scale(1 1.0000) rotate(-45)" class="cl" font-size="20.5">IL-6</text>
<text transform="translate(461.10 438.50) scale(1 1.0000) rotate(-45)" class="cl" font-size="20.5">IL-8</text>
<text transform="translate(495.50 435.50) scale(1 1.0000) rotate(-45)" class="cl" font-size="20.5">TNF-<tspan font-style="italic">α</tspan></text>
<text transform="translate(526.30 438.50) scale(1 1.0000) rotate(-45)" class="cl" font-size="20.5">Age</text>
<text transform="translate(558.90 438.50) scale(1 1.0000) rotate(-45)" class="cl" font-size="20.5">Thickness</text>
<text transform="translate(591.50 438.50) scale(1 1.0000) rotate(-45)" class="cl" font-size="20.5">Dimensions</text>
<text transform="translate(624.10 438.50) scale(1 1.0000) rotate(-45)" class="cl" font-size="20.5">LUD</text>
<text transform="translate(656.70 438.50) scale(1 1.0000) rotate(-45)" class="cl" font-size="20.5">LUH</text>
<text transform="translate(689.30 438.50) scale(1 1.0000) rotate(-45)" class="cl" font-size="20.5">Sex</text>
<text transform="translate(721.90 438.50) scale(1 1.0000) rotate(-45)" class="cl" font-size="20.5">Cell Type</text>
<text transform="translate(754.50 438.50) scale(1 1.0000) rotate(-45)" class="cl" font-size="20.5">Monosomy 3</text>
<text transform="translate(787.10 438.50) scale(1 1.0000) rotate(-45)" class="cl" font-size="20.5">Chr8 Alterations</text>
</g>
<rect x="832.60" y="456.50" width="30.60" height="598.20" fill="url(#cbg)" stroke="#222" stroke-width="1.2"/>
<path d="M863.20 456.50h4" stroke="#222" stroke-width="1.2"/>
<text x="872.50" y="461.00" class="cb">1</text>
<path d="M863.20 606.05h4" stroke="#222" stroke-width="1.2"/>
<text x="872.50" y="610.55" class="cb">0.5</text>
<path d="M863.20 755.60h4" stroke="#222" stroke-width="1.2"/>
<text x="872.50" y="760.10" class="cb">0</text>
<path d="M863.20 905.15h4" stroke="#222" stroke-width="1.2"/>
<text x="872.50" y="909.65" class="cb">-0.5</text>
<path d="M863.20 1054.70h4" stroke="#222" stroke-width="1.2"/>
<text x="872.50" y="1059.20" class="cb">-1</text>
<g>
<rect x="1080.90" y="447.10" width="32.40" height="33.47" fill="#dedede"/>
<rect x="1117.70" y="484.97" width="32.40" height="33.47" fill="#dedede"/>
<rect x="1154.50" y="522.84" width="32.40" height="33.47" fill="#dedede"/>
<rect x="1191.30" y="560.71" width="32.40" height="33.47" fill="#dedede"/>
<rect x="1228.10" y="598.58" width="32.40" height="33.47" fill="#dedede"/>
<rect x="1264.90" y="636.45" width="32.40" height="33.47" fill="#dedede"/>
<rect x="1301.70" y="674.32" width="32.40" height="33.47" fill="#dedede"/>
<rect x="1338.50" y="712.19" width="32.40" height="33.47" fill="#dedede"/>
<rect x="1375.30" y="750.06" width="32.40" height="33.47" fill="#dedede"/>
<rect x="1412.10" y="787.93" width="32.40" height="33.47" fill="#dedede"/>
<rect x="1448.90" y="825.80" width="32.40" height="33.47" fill="#dedede"/>
<rect x="1485.70" y="863.67" width="32.40" height="33.47" fill="#dedede"/>
<rect x="1522.50" y="901.54" width="32.40" height="33.47" fill="#dedede"/>
<rect x="1559.30" y="939.41" width="32.40" height="33.47" fill="#dedede"/>
<rect x="1596.10" y="977.28" width="32.40" height="33.47" fill="#dedede"/>
<rect x="1632.90" y="1015.15" width="32.40" height="33.47" fill="#dedede"/>
<path d="M1115.50 444.90V1050.82M1078.70 482.77H1667.50M1152.30 444.90V1050.82M1078.70 520.64H1667.50M1189.10 444.90V1050.82M1078.70 558.51H1667.50M1225.90 444.90V1050.82M1078.70 596.38H1667.50M1262.70 444.90V1050.82M1078.70 634.25H1667.50M1299.50 444.90V1050.82M1078.70 672.12H1667.50M1336.30 444.90V1050.82M1078.70 709.99H1667.50M1373.10 444.90V1050.82M1078.70 747.86H1667.50M1409.90 444.90V1050.82M1078.70 785.73H1667.50M1446.70 444.90V1050.82M1078.70 823.60H1667.50M1483.50 444.90V1050.82M1078.70 861.47H1667.50M1520.30 444.90V1050.82M1078.70 899.34H1667.50M1557.10 444.90V1050.82M1078.70 937.21H1667.50M1593.90 444.90V1050.82M1078.70 975.08H1667.50M1630.70 444.90V1050.82M1078.70 1012.95H1667.50" stroke="#7a7a7a" stroke-width="1.8" fill="none"/>
<rect x="1078.70" y="444.90" width="588.80" height="605.92" stroke="#3a3a3a" stroke-width="2.2" fill="none"/>
<circle cx="1133.90" cy="463.83" r="9.55" fill="#6969ff"/>
<circle cx="1170.70" cy="463.83" r="2.75" fill="#d4d4ff"/>
<circle cx="1207.50" cy="463.83" r="5.34" fill="#ababff"/>
<circle cx="1244.30" cy="463.83" r="6.48" fill="#ff9999"/>
<circle cx="1281.10" cy="463.83" r="12.63" fill="#3838ff"/>
<text x="1281.85" y="470.31" class="st">*</text>
<circle cx="1317.90" cy="463.83" r="5.34" fill="#ababff"/>
<circle cx="1354.70" cy="463.83" r="0.97" fill="#f0f0ff"/>
<circle cx="1391.50" cy="463.83" r="0.81" fill="#f2f2ff"/>
<circle cx="1428.30" cy="463.83" r="8.91" fill="#7373ff"/>
<circle cx="1465.10" cy="463.83" r="9.39" fill="#6b6bff"/>
<circle cx="1501.90" cy="463.83" r="5.18" fill="#adadff"/>
<circle cx="1538.70" cy="463.83" r="8.42" fill="#ff7a7a"/>
<circle cx="1575.50" cy="463.83" r="1.94" fill="#e0e0ff"/>
<circle cx="1612.30" cy="463.83" r="4.21" fill="#bdbdff"/>
<circle cx="1649.10" cy="463.83" r="3.24" fill="#ccccff"/>
<circle cx="1170.70" cy="501.70" r="10.52" fill="#5959ff"/>
<text x="1171.45" y="508.19" class="st">*</text>
<circle cx="1207.50" cy="501.70" r="4.21" fill="#bdbdff"/>
<circle cx="1244.30" cy="501.70" r="0.16" fill="#fcfcff"/>
<circle cx="1281.10" cy="501.70" r="5.99" fill="#a1a1ff"/>
<circle cx="1317.90" cy="501.70" r="6.48" fill="#9999ff"/>
<circle cx="1354.70" cy="501.70" r="9.55" fill="#ff6969"/>
<circle cx="1391.50" cy="501.70" r="1.62" fill="#ffe6e6"/>
<circle cx="1428.30" cy="501.70" r="2.75" fill="#ffd4d4"/>
<circle cx="1465.10" cy="501.70" r="2.43" fill="#ffd9d9"/>
<circle cx="1501.90" cy="501.70" r="6.31" fill="#ff9c9c"/>
<circle cx="1538.70" cy="501.70" r="5.99" fill="#ffa1a1"/>
<circle cx="1575.50" cy="501.70" r="2.91" fill="#d1d1ff"/>
<circle cx="1612.30" cy="501.70" r="2.10" fill="#ffdede"/>
<circle cx="1649.10" cy="501.70" r="8.42" fill="#ff7a7a"/>
<circle cx="1207.50" cy="539.57" r="7.29" fill="#ff8c8c"/>
<circle cx="1244.30" cy="539.57" r="10.52" fill="#ff5959"/>
<text x="1245.05" y="546.05" class="st">*</text>
<circle cx="1281.10" cy="539.57" r="3.40" fill="#c9c9ff"/>
<circle cx="1317.90" cy="539.57" r="1.13" fill="#ededff"/>
<circle cx="1354.70" cy="539.57" r="5.83" fill="#ffa3a3"/>
<circle cx="1391.50" cy="539.57" r="2.43" fill="#d9d9ff"/>
<circle cx="1428.30" cy="539.57" r="3.56" fill="#ffc7c7"/>
<circle cx="1465.10" cy="539.57" r="4.05" fill="#ffbfbf"/>
<circle cx="1501.90" cy="539.57" r="6.48" fill="#ff9999"/>
<circle cx="1538.70" cy="539.57" r="5.99" fill="#ffa1a1"/>
<circle cx="1575.50" cy="539.57" r="5.83" fill="#a3a3ff"/>
<circle cx="1612.30" cy="539.57" r="5.18" fill="#ffadad"/>
<circle cx="1649.10" cy="539.57" r="11.17" fill="#ff4f4f"/>
<text x="1649.85" y="546.05" class="st">*</text>
<circle cx="1244.30" cy="577.44" r="6.80" fill="#9494ff"/>
<circle cx="1317.90" cy="577.44" r="7.77" fill="#ff8585"/>
<circle cx="1354.70" cy="577.44" r="6.80" fill="#9494ff"/>
<circle cx="1391.50" cy="577.44" r="7.45" fill="#8a8aff"/>
<circle cx="1428.30" cy="577.44" r="0.97" fill="#fff0f0"/>
<circle cx="1465.10" cy="577.44" r="8.91" fill="#7373ff"/>
<circle cx="1501.90" cy="577.44" r="0.49" fill="#f7f7ff"/>
<circle cx="1538.70" cy="577.44" r="0.65" fill="#fff5f5"/>
<circle cx="1575.50" cy="577.44" r="3.89" fill="#c2c2ff"/>
<circle cx="1649.10" cy="577.44" r="2.27" fill="#ffdbdb"/>
<circle cx="1281.10" cy="615.31" r="6.64" fill="#9696ff"/>
<circle cx="1317.90" cy="615.31" r="1.13" fill="#ffeded"/>
<circle cx="1354.70" cy="615.31" r="4.21" fill="#ffbdbd"/>
<circle cx="1391.50" cy="615.31" r="4.21" fill="#bdbdff"/>
<circle cx="1428.30" cy="615.31" r="7.77" fill="#8585ff"/>
<circle cx="1465.10" cy="615.31" r="2.43" fill="#ffd9d9"/>
<circle cx="1501.90" cy="615.31" r="9.88" fill="#ff6363"/>
<text x="1502.65" y="621.79" class="st">*</text>
<circle cx="1538.70" cy="615.31" r="3.56" fill="#c7c7ff"/>
<circle cx="1575.50" cy="615.31" r="9.72" fill="#6666ff"/>
<circle cx="1612.30" cy="615.31" r="1.62" fill="#ffe6e6"/>
<circle cx="1649.10" cy="615.31" r="6.96" fill="#ff9191"/>
<circle cx="1317.90" cy="653.18" r="0.81" fill="#fff2f2"/>
<circle cx="1354.70" cy="653.18" r="3.89" fill="#ffc2c2"/>
<circle cx="1391.50" cy="653.18" r="6.64" fill="#9696ff"/>
<circle cx="1428.30" cy="653.18" r="5.99" fill="#ffa1a1"/>
<circle cx="1465.10" cy="653.18" r="9.55" fill="#6969ff"/>
<circle cx="1501.90" cy="653.18" r="4.53" fill="#b8b8ff"/>
<circle cx="1538.70" cy="653.18" r="6.80" fill="#ff9494"/>
<circle cx="1612.30" cy="653.18" r="0.97" fill="#f0f0ff"/>
<circle cx="1649.10" cy="653.18" r="3.56" fill="#c7c7ff"/>
<circle cx="1354.70" cy="691.05" r="4.70" fill="#b5b5ff"/>
<circle cx="1391.50" cy="691.05" r="4.21" fill="#ffbdbd"/>
<circle cx="1428.30" cy="691.05" r="11.50" fill="#4a4aff"/>
<circle cx="1465.10" cy="691.05" r="3.89" fill="#ffc2c2"/>
<circle cx="1501.90" cy="691.05" r="1.30" fill="#ebebff"/>
<circle cx="1538.70" cy="691.05" r="2.10" fill="#dedeff"/>
<circle cx="1575.50" cy="691.05" r="5.34" fill="#ffabab"/>
<circle cx="1612.30" cy="691.05" r="2.75" fill="#d4d4ff"/>
<circle cx="1391.50" cy="728.92" r="1.94" fill="#ffe0e0"/>
<circle cx="1428.30" cy="728.92" r="6.96" fill="#9191ff"/>
<circle cx="1465.10" cy="728.92" r="6.31" fill="#9c9cff"/>
<circle cx="1501.90" cy="728.92" r="11.17" fill="#4f4fff"/>
<text x="1502.65" y="735.40" class="st">*</text>
<circle cx="1538.70" cy="728.92" r="3.08" fill="#ffcfcf"/>
<circle cx="1575.50" cy="728.92" r="4.86" fill="#ffb2b2"/>
<circle cx="1612.30" cy="728.92" r="1.62" fill="#e6e6ff"/>
<circle cx="1649.10" cy="728.92" r="10.85" fill="#5454ff"/>
<text x="1649.85" y="735.40" class="st">*</text>
<circle cx="1428.30" cy="766.79" r="8.58" fill="#7878ff"/>
<circle cx="1465.10" cy="766.79" r="7.93" fill="#8282ff"/>
<circle cx="1501.90" cy="766.79" r="4.05" fill="#bfbfff"/>
<circle cx="1538.70" cy="766.79" r="2.43" fill="#ffd9d9"/>
<circle cx="1575.50" cy="766.79" r="9.72" fill="#6666ff"/>
<circle cx="1612.30" cy="766.79" r="0.97" fill="#f0f0ff"/>
<circle cx="1649.10" cy="766.79" r="2.75" fill="#ffd4d4"/>
<circle cx="1465.10" cy="804.66" r="15.54" fill="#0a0aff"/>
<text x="1465.85" y="811.14" class="st">***</text>
<circle cx="1501.90" cy="804.66" r="13.60" fill="#2929ff"/>
<text x="1502.65" y="811.14" class="st">**</text>
<circle cx="1538.70" cy="804.66" r="4.86" fill="#ffb2b2"/>
<circle cx="1612.30" cy="804.66" r="3.08" fill="#cfcfff"/>
<circle cx="1649.10" cy="804.66" r="5.67" fill="#a6a6ff"/>
<circle cx="1501.90" cy="842.53" r="11.66" fill="#4747ff"/>
<text x="1502.65" y="849.01" class="st">*</text>
<circle cx="1538.70" cy="842.53" r="5.99" fill="#ffa1a1"/>
<circle cx="1575.50" cy="842.53" r="1.94" fill="#e0e0ff"/>
<circle cx="1612.30" cy="842.53" r="4.21" fill="#bdbdff"/>
<circle cx="1649.10" cy="842.53" r="6.48" fill="#9999ff"/>
<circle cx="1538.70" cy="880.40" r="1.13" fill="#ffeded"/>
<circle cx="1575.50" cy="880.40" r="6.80" fill="#ff9494"/>
<circle cx="1612.30" cy="880.40" r="0.49" fill="#f7f7ff"/>
<circle cx="1649.10" cy="880.40" r="6.96" fill="#9191ff"/>
<circle cx="1575.50" cy="918.27" r="5.83" fill="#ffa3a3"/>
<circle cx="1612.30" cy="918.27" r="4.70" fill="#ffb5b5"/>
<circle cx="1649.10" cy="918.27" r="0.65" fill="#fff5f5"/>
<circle cx="1612.30" cy="956.14" r="6.31" fill="#9c9cff"/>
<circle cx="1649.10" cy="956.14" r="1.13" fill="#ffeded"/>
<circle cx="1649.10" cy="994.01" r="9.07" fill="#7070ff"/>
<text x="1097.10" y="501.70" class="nm" fill="#5e5ed7">.59</text>
<text x="1097.10" y="539.57" class="nm" fill="#7e7eda">.17</text>
<text x="1133.90" y="539.57" class="nm" fill="#5050d6">.65</text>
<text x="1097.10" y="577.44" class="nm" fill="#7e7eda">.33</text>
<text x="1133.90" y="577.44" class="nm" fill="#7e7eda">.26</text>
<text x="1170.70" y="577.44" class="nm" fill="#ee858f">-.45</text>
<text x="1097.10" y="615.31" class="nm" fill="#ee858f">-.40</text>
<text x="1133.90" y="615.31" class="nm" fill="#7e7eda">.01</text>
<text x="1170.70" y="615.31" class="nm" fill="#e3555f">-.65</text>
<text x="1207.50" y="615.31" class="nm" fill="#7e7eda">.42</text>
<text x="1097.10" y="653.18" class="nm" fill="#3232d4">.78</text>
<text x="1133.90" y="653.18" class="nm" fill="#7e7eda">.37</text>
<text x="1170.70" y="653.18" class="nm" fill="#7e7eda">.21</text>
<text x="1244.30" y="653.18" class="nm" fill="#7e7eda">.41</text>
<text x="1097.10" y="691.05" class="nm" fill="#7e7eda">.33</text>
<text x="1133.90" y="691.05" class="nm" fill="#7e7eda">.40</text>
<text x="1170.70" y="691.05" class="nm" fill="#7e7eda">.07</text>
<text x="1207.50" y="691.05" class="nm" fill="#ec7e88">-.48</text>
<text x="1244.30" y="691.05" class="nm" fill="#ee858f">-.07</text>
<text x="1281.10" y="691.05" class="nm" fill="#ee858f">-.05</text>
<text x="1097.10" y="728.92" class="nm" fill="#7e7eda">.06</text>
<text x="1133.90" y="728.92" class="nm" fill="#e6636d">-.59</text>
<text x="1170.70" y="728.92" class="nm" fill="#ee858f">-.36</text>
<text x="1207.50" y="728.92" class="nm" fill="#7e7eda">.42</text>
<text x="1244.30" y="728.92" class="nm" fill="#ee858f">-.26</text>
<text x="1281.10" y="728.92" class="nm" fill="#ee858f">-.24</text>
<text x="1317.90" y="728.92" class="nm" fill="#7e7eda">.29</text>
<text x="1097.10" y="766.79" class="nm" fill="#7e7eda">.05</text>
<text x="1133.90" y="766.79" class="nm" fill="#ee858f">-.10</text>
<text x="1170.70" y="766.79" class="nm" fill="#7e7eda">.15</text>
<text x="1207.50" y="766.79" class="nm" fill="#7c7cda">.46</text>
<text x="1244.30" y="766.79" class="nm" fill="#7e7eda">.26</text>
<text x="1281.10" y="766.79" class="nm" fill="#7e7eda">.41</text>
<text x="1317.90" y="766.79" class="nm" fill="#ee858f">-.26</text>
<text x="1354.70" y="766.79" class="nm" fill="#ee858f">-.12</text>
<text x="1097.10" y="804.66" class="nm" fill="#6767d8">.55</text>
<text x="1133.90" y="804.66" class="nm" fill="#ee858f">-.17</text>
<text x="1170.70" y="804.66" class="nm" fill="#ee858f">-.22</text>
<text x="1207.50" y="804.66" class="nm" fill="#ee858f">-.06</text>
<text x="1244.30" y="804.66" class="nm" fill="#7777d9">.48</text>
<text x="1281.10" y="804.66" class="nm" fill="#ee858f">-.37</text>
<text x="1317.90" y="804.66" class="nm" fill="#4343d5">.71</text>
<text x="1354.70" y="804.66" class="nm" fill="#7e7eda">.43</text>
<text x="1391.50" y="804.66" class="nm" fill="#6c6cd9">.53</text>
<text x="1097.10" y="842.53" class="nm" fill="#6060d8">.58</text>
<text x="1133.90" y="842.53" class="nm" fill="#ee858f">-.15</text>
<text x="1170.70" y="842.53" class="nm" fill="#ee858f">-.25</text>
<text x="1207.50" y="842.53" class="nm" fill="#6767d8">.55</text>
<text x="1244.30" y="842.53" class="nm" fill="#ee858f">-.15</text>
<text x="1281.10" y="842.53" class="nm" fill="#5e5ed7">.59</text>
<text x="1317.90" y="842.53" class="nm" fill="#ee858f">-.24</text>
<text x="1354.70" y="842.53" class="nm" fill="#7e7eda">.39</text>
<text x="1391.50" y="842.53" class="nm" fill="#7575d9">.49</text>
<text x="1428.30" y="842.53" class="nm" fill="#0909d1">.96</text>
<text x="1097.10" y="880.40" class="nm" fill="#7e7eda">.32</text>
<text x="1133.90" y="880.40" class="nm" fill="#ee858f">-.39</text>
<text x="1170.70" y="880.40" class="nm" fill="#ee858f">-.40</text>
<text x="1207.50" y="880.40" class="nm" fill="#7e7eda">.03</text>
<text x="1244.30" y="880.40" class="nm" fill="#e55e68">-.61</text>
<text x="1281.10" y="880.40" class="nm" fill="#7e7eda">.28</text>
<text x="1317.90" y="880.40" class="nm" fill="#7e7eda">.08</text>
<text x="1354.70" y="880.40" class="nm" fill="#4747d6">.69</text>
<text x="1391.50" y="880.40" class="nm" fill="#7e7eda">.25</text>
<text x="1428.30" y="880.40" class="nm" fill="#2525d3">.84</text>
<text x="1465.10" y="880.40" class="nm" fill="#4040d5">.72</text>
<text x="1097.10" y="918.27" class="nm" fill="#ea747e">-.52</text>
<text x="1133.90" y="918.27" class="nm" fill="#ee858f">-.37</text>
<text x="1170.70" y="918.27" class="nm" fill="#ee858f">-.37</text>
<text x="1207.50" y="918.27" class="nm" fill="#ee858f">-.04</text>
<text x="1244.30" y="918.27" class="nm" fill="#7e7eda">.22</text>
<text x="1281.10" y="918.27" class="nm" fill="#ee858f">-.42</text>
<text x="1317.90" y="918.27" class="nm" fill="#7e7eda">.13</text>
<text x="1354.70" y="918.27" class="nm" fill="#ee858f">-.19</text>
<text x="1391.50" y="918.27" class="nm" fill="#ee858f">-.15</text>
<text x="1428.30" y="918.27" class="nm" fill="#ee858f">-.30</text>
<text x="1465.10" y="918.27" class="nm" fill="#ee858f">-.37</text>
<text x="1501.90" y="918.27" class="nm" fill="#ee858f">-.07</text>
<text x="1097.10" y="956.14" class="nm" fill="#7e7eda">.12</text>
<text x="1133.90" y="956.14" class="nm" fill="#7e7eda">.18</text>
<text x="1170.70" y="956.14" class="nm" fill="#7e7eda">.36</text>
<text x="1207.50" y="956.14" class="nm" fill="#7e7eda">.24</text>
<text x="1244.30" y="956.14" class="nm" fill="#5c5cd7">.60</text>
<text x="1317.90" y="956.14" class="nm" fill="#ee858f">-.33</text>
<text x="1354.70" y="956.14" class="nm" fill="#ee858f">-.30</text>
<text x="1391.50" y="956.14" class="nm" fill="#5c5cd7">.60</text>
<text x="1465.10" y="956.14" class="nm" fill="#7e7eda">.12</text>
<text x="1501.90" y="956.14" class="nm" fill="#ee858f">-.42</text>
<text x="1538.70" y="956.14" class="nm" fill="#ee858f">-.36</text>
<text x="1097.10" y="994.01" class="nm" fill="#7e7eda">.26</text>
<text x="1133.90" y="994.01" class="nm" fill="#ee858f">-.13</text>
<text x="1170.70" y="994.01" class="nm" fill="#ee858f">-.32</text>
<text x="1244.30" y="994.01" class="nm" fill="#ee858f">-.10</text>
<text x="1281.10" y="994.01" class="nm" fill="#7e7eda">.06</text>
<text x="1317.90" y="994.01" class="nm" fill="#7e7eda">.17</text>
<text x="1354.70" y="994.01" class="nm" fill="#7e7eda">.10</text>
<text x="1391.50" y="994.01" class="nm" fill="#7e7eda">.06</text>
<text x="1428.30" y="994.01" class="nm" fill="#7e7eda">.19</text>
<text x="1465.10" y="994.01" class="nm" fill="#7e7eda">.26</text>
<text x="1501.90" y="994.01" class="nm" fill="#7e7eda">.03</text>
<text x="1538.70" y="994.01" class="nm" fill="#ee858f">-.29</text>
<text x="1575.50" y="994.01" class="nm" fill="#7e7eda">.39</text>
<text x="1097.10" y="1031.88" class="nm" fill="#7e7eda">.20</text>
<text x="1133.90" y="1031.88" class="nm" fill="#ea747e">-.52</text>
<text x="1170.70" y="1031.88" class="nm" fill="#e14b55">-.69</text>
<text x="1207.50" y="1031.88" class="nm" fill="#ee858f">-.14</text>
<text x="1244.30" y="1031.88" class="nm" fill="#ee858f">-.43</text>
<text x="1281.10" y="1031.88" class="nm" fill="#7e7eda">.22</text>
<text x="1354.70" y="1031.88" class="nm" fill="#4c4cd6">.67</text>
<text x="1391.50" y="1031.88" class="nm" fill="#ee858f">-.17</text>
<text x="1428.30" y="1031.88" class="nm" fill="#7e7eda">.35</text>
<text x="1465.10" y="1031.88" class="nm" fill="#7e7eda">.40</text>
<text x="1501.90" y="1031.88" class="nm" fill="#7e7eda">.43</text>
<text x="1538.70" y="1031.88" class="nm" fill="#ee858f">-.04</text>
<text x="1575.50" y="1031.88" class="nm" fill="#ee858f">-.07</text>
<text x="1612.30" y="1031.88" class="nm" fill="#6565d8">.56</text>
<text x="1074.00" y="470.87" class="rl" font-size="19.3">bFGF</text>
<text x="1074.00" y="508.74" class="rl" font-size="19.3">Flt-1</text>
<text x="1074.00" y="546.61" class="rl" font-size="19.3">P1GF</text>
<text x="1074.00" y="584.48" class="rl" font-size="19.3">Tie-2</text>
<text x="1074.00" y="622.35" class="rl" font-size="19.3">VEGF-A</text>
<text x="1074.00" y="660.22" class="rl" font-size="19.3">VEGF-C</text>
<text x="1074.00" y="698.09" class="rl" font-size="19.3">VEGF-D</text>
<text x="1074.00" y="735.96" class="rl" font-size="19.3">Age</text>
<text x="1074.00" y="773.83" class="rl" font-size="19.3">Thickness</text>
<text x="1074.00" y="811.70" class="rl" font-size="19.3">Dimensions</text>
<text x="1074.00" y="849.57" class="rl" font-size="19.3">LUD</text>
<text x="1074.00" y="887.44" class="rl" font-size="19.3">LUH</text>
<text x="1074.00" y="925.31" class="rl" font-size="19.3">Sex</text>
<text x="1074.00" y="963.18" class="rl" font-size="19.3">Cell Type</text>
<text x="1074.00" y="1001.05" class="rl" font-size="19.3">Monosomy 3</text>
<text x="1074.00" y="1038.92" class="rl" font-size="19.3">Chr8 Alterations</text>
<text transform="translate(1105.90 437.60) scale(1 1.0290) rotate(-45)" class="cl" font-size="19.3">bFGF</text>
<text transform="translate(1142.70 437.60) scale(1 1.0290) rotate(-45)" class="cl" font-size="19.3">Flt-1</text>
<text transform="translate(1179.50 437.60) scale(1 1.0290) rotate(-45)" class="cl" font-size="19.3">P1GF</text>
<text transform="translate(1216.30 437.60) scale(1 1.0290) rotate(-45)" class="cl" font-size="19.3">Tie-2</text>
<text transform="translate(1253.10 437.60) scale(1 1.0290) rotate(-45)" class="cl" font-size="19.3">VEGF-A</text>
<text transform="translate(1289.90 437.60) scale(1 1.0290) rotate(-45)" class="cl" font-size="19.3">VEGF-C</text>
<text transform="translate(1326.70 437.60) scale(1 1.0290) rotate(-45)" class="cl" font-size="19.3">VEGF-D</text>
<text transform="translate(1363.50 437.60) scale(1 1.0290) rotate(-45)" class="cl" font-size="19.3">Age</text>
<text transform="translate(1400.30 437.60) scale(1 1.0290) rotate(-45)" class="cl" font-size="19.3">Thickness</text>
<text transform="translate(1437.10 437.60) scale(1 1.0290) rotate(-45)" class="cl" font-size="19.3">Dimensions</text>
<text transform="translate(1473.90 437.60) scale(1 1.0290) rotate(-45)" class="cl" font-size="19.3">LUD</text>
<text transform="translate(1510.70 437.60) scale(1 1.0290) rotate(-45)" class="cl" font-size="19.3">LUH</text>
<text transform="translate(1547.50 437.60) scale(1 1.0290) rotate(-45)" class="cl" font-size="19.3">Sex</text>
<text transform="translate(1584.30 437.60) scale(1 1.0290) rotate(-45)" class="cl" font-size="19.3">Cell Type</text>
<text transform="translate(1621.10 437.60) scale(1 1.0290) rotate(-45)" class="cl" font-size="19.3">Monosomy 3</text>
<text transform="translate(1657.90 437.60) scale(1 1.0290) rotate(-45)" class="cl" font-size="19.3">Chr8 Alterations</text>
</g>
<rect x="1703.50" y="455.10" width="28.40" height="584.90" fill="url(#cbg)" stroke="#222" stroke-width="1.2"/>
<path d="M1731.90 455.10h4" stroke="#222" stroke-width="1.2"/>
<text x="1740.00" y="459.60" class="cb">1</text>
<path d="M1731.90 601.33h4" stroke="#222" stroke-width="1.2"/>
<text x="1740.00" y="605.83" class="cb">0.5</text>
<path d="M1731.90 747.55h4" stroke="#222" stroke-width="1.2"/>
<text x="1740.00" y="752.05" class="cb">0</text>
<path d="M1731.90 893.77h4" stroke="#222" stroke-width="1.2"/>
<text x="1740.00" y="898.27" class="cb">-0.5</text>
<path d="M1731.90 1040.00h4" stroke="#222" stroke-width="1.2"/>
<text x="1740.00" y="1044.50" class="cb">-1</text>
<rect x="438.30" y="1101.60" width="1015.30" height="78.40" fill="#c9c9c9"/>
<rect x="438.30" y="1180.00" width="1015.30" height="45.30" fill="#efefef"/>
<rect x="438.30" y="1225.30" width="1015.30" height="45.90" fill="#ffffff"/>
<rect x="438.30" y="1271.20" width="1015.30" height="78.70" fill="#efefef"/>
<rect x="438.30" y="1349.90" width="1015.30" height="77.70" fill="#ffffff"/>
<rect x="438.30" y="1427.60" width="1015.30" height="77.80" fill="#efefef"/>
<rect x="438.30" y="1505.40" width="1015.30" height="44.10" fill="#ffffff"/>
<path d="M438.30 1100.60V1550.50M668.00 1100.60V1550.50M945.60 1100.60V1550.50M1199.70 1100.60V1550.50M1453.60 1100.60V1550.50M437.30 1101.60H1454.60M437.30 1180.00H1454.60M437.30 1225.30H1454.60M437.30 1271.20H1454.60M437.30 1349.90H1454.60M437.30 1427.60H1454.60M437.30 1505.40H1454.60M437.30 1549.50H1454.60" stroke="#2a2a2a" stroke-width="2" fill="none"/>
<text x="450.50" y="1132.50" class="tt" textLength="172.75" lengthAdjust="spacingAndGlyphs">Secreted factor</text>
<text x="679.60" y="1132.50" class="tt" textLength="238.38" lengthAdjust="spacingAndGlyphs">Clinical characteristic</text>
<text x="958.00" y="1132.50" class="tt" textLength="115.17" lengthAdjust="spacingAndGlyphs">Spearman</text>
<text x="1079.50" y="1132.50" class="tt" textLength="9.60" lengthAdjust="spacingAndGlyphs" font-style="italic">r</text>
<text x="1095.43" y="1132.50" class="tt" textLength="60.72" lengthAdjust="spacingAndGlyphs">value</text>
<text x="1210.40" y="1132.50" class="tt" textLength="14.40" lengthAdjust="spacingAndGlyphs" font-style="italic">p</text>
<text x="1231.13" y="1132.50" class="tt" textLength="200.45" lengthAdjust="spacingAndGlyphs">value (two-tailed)</text>
<text x="450.50" y="1211.40" class="tt" textLength="41.59" lengthAdjust="spacingAndGlyphs">IL-6</text>
<text x="679.60" y="1211.40" class="tt" textLength="43.08" lengthAdjust="spacingAndGlyphs">Age</text>
<text x="958.00" y="1211.40" class="tt" textLength="58.22" lengthAdjust="spacingAndGlyphs">-0.62</text>
<text x="1210.40" y="1211.40" class="tt" textLength="63.84" lengthAdjust="spacingAndGlyphs">0.045</text>
<text x="450.50" y="1257.20" class="tt" textLength="55.78" lengthAdjust="spacingAndGlyphs">IL-13</text>
<text x="679.60" y="1257.20" class="tt" textLength="200.19" lengthAdjust="spacingAndGlyphs">Tumour thickness</text>
<text x="958.00" y="1257.20" class="tt" textLength="58.22" lengthAdjust="spacingAndGlyphs">-0.65</text>
<text x="1210.40" y="1257.20" class="tt" textLength="49.65" lengthAdjust="spacingAndGlyphs">0.03</text>
<text x="450.50" y="1302.70" class="tt" textLength="59.19" lengthAdjust="spacingAndGlyphs">P1GF</text>
<text x="679.60" y="1302.70" class="tt" textLength="173.39" lengthAdjust="spacingAndGlyphs">Chromosome 8</text>
<text x="958.00" y="1302.70" class="tt" textLength="58.22" lengthAdjust="spacingAndGlyphs">-0.69</text>
<text x="1210.40" y="1302.70" class="tt" textLength="49.65" lengthAdjust="spacingAndGlyphs">0.03</text>
<text x="450.50" y="1380.40" class="tt" textLength="84.53" lengthAdjust="spacingAndGlyphs">VEGF-A</text>
<text x="679.60" y="1380.40" class="tt" textLength="210.76" lengthAdjust="spacingAndGlyphs">Largest ultrasound</text>
<text x="958.00" y="1380.40" class="tt" textLength="58.22" lengthAdjust="spacingAndGlyphs">-0.61</text>
<text x="1210.40" y="1380.40" class="tt" textLength="49.65" lengthAdjust="spacingAndGlyphs">0.05</text>
<text x="450.50" y="1458.70" class="tt" textLength="41.59" lengthAdjust="spacingAndGlyphs">IL-6</text>
<text x="679.60" y="1458.70" class="tt" textLength="173.39" lengthAdjust="spacingAndGlyphs">Chromosome 8</text>
<text x="958.00" y="1458.70" class="tt" textLength="58.22" lengthAdjust="spacingAndGlyphs">-0.64</text>
<text x="1210.40" y="1458.70" class="tt" textLength="63.84" lengthAdjust="spacingAndGlyphs">0.052</text>
<text x="450.50" y="1535.80" class="tt" textLength="85.56" lengthAdjust="spacingAndGlyphs">VEGF-D</text>
<text x="679.60" y="1535.80" class="tt" textLength="224.51" lengthAdjust="spacingAndGlyphs">Tumour dimensions</text>
<text x="958.00" y="1535.80" class="tt" textLength="49.65" lengthAdjust="spacingAndGlyphs">0.71</text>
<text x="1210.40" y="1535.80" class="tt" textLength="49.65" lengthAdjust="spacingAndGlyphs">0.06</text>
<text x="679.60" y="1335.60" class="tt" textLength="121.22" lengthAdjust="spacingAndGlyphs">alterations</text>
<text x="679.60" y="1414.00" class="tt" textLength="72.08" lengthAdjust="spacingAndGlyphs">height</text>
<text x="679.60" y="1491.60" class="tt" textLength="121.22" lengthAdjust="spacingAndGlyphs">alterations</text>
</svg></body></html>
